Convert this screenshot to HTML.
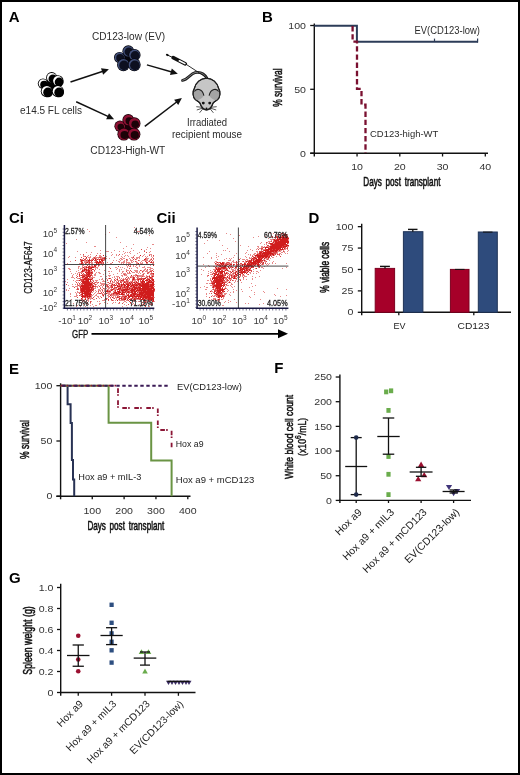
<!DOCTYPE html><html><head><meta charset="utf-8"><style>html,body{margin:0;padding:0;background:#fff}svg{display:block;will-change:transform}text{font-family:"Liberation Sans",sans-serif}</style></head><body>
<svg width="520" height="775" viewBox="0 0 520 775">
<defs><filter id="soft" x="-5%" y="-5%" width="110%" height="110%"><feGaussianBlur stdDeviation="0.5"/></filter></defs>
<rect width="520" height="775" fill="#fff"/>
<text transform="translate(8.7,21.9)" font-size="15" fill="#000" font-weight="bold">A</text>
<text transform="translate(92,39.5)" font-size="10" fill="#2b2b2b" textLength="73" lengthAdjust="spacingAndGlyphs">CD123-low (EV)</text>
<text transform="translate(20,114.3)" font-size="10" fill="#2b2b2b" textLength="62" lengthAdjust="spacingAndGlyphs">e14.5 FL cells</text>
<text transform="translate(90.3,153.5)" font-size="10" fill="#2b2b2b" textLength="75" lengthAdjust="spacingAndGlyphs">CD123-High-WT</text>
<text transform="translate(187,126.3)" font-size="10" fill="#2b2b2b" textLength="40" lengthAdjust="spacingAndGlyphs">Irradiated</text>
<text transform="translate(172,137.6)" font-size="10" fill="#2b2b2b" textLength="70" lengthAdjust="spacingAndGlyphs">recipient mouse</text>
<circle cx="51.46" cy="84.90" r="6" fill="#000"/>
<circle cx="43" cy="83.6" r="5.2" fill="#000"/>
<circle cx="43" cy="83.6" r="4.35" fill="#fff"/>
<circle cx="44.25" cy="84.85" r="4.05" fill="#000"/>
<circle cx="51.7" cy="77.7" r="5.6" fill="#000"/>
<circle cx="51.7" cy="77.7" r="4.75" fill="#fff"/>
<circle cx="52.95" cy="78.95" r="4.45" fill="#000"/>
<circle cx="57.9" cy="80.8" r="5.6" fill="#000"/>
<circle cx="57.9" cy="80.8" r="4.75" fill="#fff"/>
<circle cx="59.15" cy="82.05" r="4.45" fill="#000"/>
<circle cx="46.8" cy="91.2" r="6" fill="#000"/>
<circle cx="46.8" cy="91.2" r="5.15" fill="#fff"/>
<circle cx="48.05" cy="92.45" r="4.85" fill="#000"/>
<circle cx="57.9" cy="91.2" r="6" fill="#000"/>
<circle cx="57.9" cy="91.2" r="5.15" fill="#fff"/>
<circle cx="59.15" cy="92.45" r="4.85" fill="#000"/>
<circle cx="128.02" cy="58.66" r="6" fill="#05050c"/>
<circle cx="119.6" cy="57.5" r="5.6" fill="#05050c"/>
<circle cx="119.6" cy="57.5" r="4.90" fill="#42507a"/>
<circle cx="120.20" cy="58.10" r="4.00" fill="#0d1020"/>
<circle cx="128.3" cy="51.2" r="5.9" fill="#05050c"/>
<circle cx="128.3" cy="51.2" r="5.20" fill="#42507a"/>
<circle cx="128.90" cy="51.80" r="4.30" fill="#0d1020"/>
<circle cx="134.5" cy="55" r="6.1" fill="#05050c"/>
<circle cx="134.5" cy="55" r="5.40" fill="#42507a"/>
<circle cx="135.10" cy="55.60" r="4.50" fill="#0d1020"/>
<circle cx="123.4" cy="64.8" r="6.4" fill="#05050c"/>
<circle cx="123.4" cy="64.8" r="5.70" fill="#42507a"/>
<circle cx="124.00" cy="65.40" r="4.80" fill="#0d1020"/>
<circle cx="134.3" cy="64.8" r="6.4" fill="#05050c"/>
<circle cx="134.3" cy="64.8" r="5.70" fill="#42507a"/>
<circle cx="134.90" cy="65.40" r="4.80" fill="#0d1020"/>
<circle cx="128.10" cy="127.60" r="6" fill="#1a0008"/>
<circle cx="120" cy="126.2" r="5.6" fill="#1a0008"/>
<circle cx="120" cy="126.2" r="4.90" fill="#8e1134"/>
<circle cx="120.80" cy="127.00" r="3.30" fill="#1c0308"/>
<circle cx="128.3" cy="120" r="5.9" fill="#1a0008"/>
<circle cx="128.3" cy="120" r="5.20" fill="#8e1134"/>
<circle cx="129.10" cy="120.80" r="3.60" fill="#1c0308"/>
<circle cx="134.4" cy="123.4" r="6.1" fill="#1a0008"/>
<circle cx="134.4" cy="123.4" r="5.40" fill="#8e1134"/>
<circle cx="135.20" cy="124.20" r="3.80" fill="#1c0308"/>
<circle cx="123.8" cy="134.2" r="6.4" fill="#1a0008"/>
<circle cx="123.8" cy="134.2" r="5.70" fill="#8e1134"/>
<circle cx="124.60" cy="135.00" r="4.10" fill="#1c0308"/>
<circle cx="134" cy="134.2" r="6.4" fill="#1a0008"/>
<circle cx="134" cy="134.2" r="5.70" fill="#8e1134"/>
<circle cx="134.80" cy="135.00" r="4.10" fill="#1c0308"/>
<line x1="70.5" y1="82" x2="103.01" y2="71.25" stroke="#111" stroke-width="1.5"/>
<path d="M108.90 69.30L103.13 74.79L101.00 68.33Z" fill="#111"/>
<line x1="76.2" y1="101.7" x2="108.48" y2="116.69" stroke="#111" stroke-width="1.5"/>
<path d="M114.10 119.30L106.14 119.35L109.00 113.18Z" fill="#111"/>
<line x1="146.9" y1="64.9" x2="171.84" y2="72.0" stroke="#111" stroke-width="1.5"/>
<path d="M177.80 73.70L169.94 75.00L171.81 68.46Z" fill="#111"/>
<line x1="144.8" y1="126.3" x2="176.97" y2="101.76" stroke="#111" stroke-width="1.5"/>
<path d="M181.90 98.00L178.24 105.07L174.11 99.66Z" fill="#111"/>
<path d="M207 78.5 C204.5 73.5 200 71.8 195 72.6 C190.5 73.5 188 79.5 182.6 80.4" stroke="#1a1a1a" stroke-width="2.9" fill="none" stroke-linecap="round"/>
<path d="M207 78.5 C204.5 73.5 200 71.8 195 72.6 C190.5 73.5 188 79.5 182.6 80.4" stroke="#9a9a9a" stroke-width="0.8" fill="none" stroke-linecap="round"/>
<line x1="185.5" y1="63.9" x2="206.5" y2="77.6" stroke="#1a1a1a" stroke-width="0.9"/>
<line x1="167.2" y1="54.9" x2="173.5" y2="57.9" stroke="#1a1a1a" stroke-width="1.0"/>
<ellipse cx="167.3" cy="54.9" rx="1.5" ry="1.1" transform="rotate(28 167.3 54.9)" fill="#111"/>
<path d="M173.2 57.7 L185.3 63.8" stroke="#111" stroke-width="3.6" stroke-linecap="round"/>
<path d="M179.3 60.8 L184.9 63.6" stroke="#fff" stroke-width="1.6" stroke-linecap="round"/>
<path d="M206.5 78.2 C212.5 78.2 217.3 82.5 218.7 88.5 C220.6 91.5 220.4 97 217.6 99.6 C215.6 101.3 213.6 101.8 213 103.2 C212 106.3 209.5 109.6 206.5 109.9 C203.5 109.6 201 106.3 200 103.2 C199.4 101.8 197.4 101.3 195.4 99.6 C192.6 97 192.4 91.5 194.3 88.5 C195.7 82.5 200.5 78.2 206.5 78.2 Z" fill="#c6c6c6" stroke="#1e1e1e" stroke-width="1.15"/>
<path d="M194.3 91.6 C196 88.3 202.2 88 203.9 95.6 C202.2 98.4 199 100.3 196 100.4 C193.4 98.4 193 94.8 194.3 91.6 Z" fill="#a3a3a3"/>
<path d="M194.3 91.6 C196 88.3 202.2 88 203.9 95.6" stroke="#1e1e1e" stroke-width="1.1" fill="none"/>
<path d="M218.7 91.6 C217 88.3 210.8 88 209.1 95.6 C210.8 98.4 214 100.3 217 100.4 C219.6 98.4 220 94.8 218.7 91.6 Z" fill="#a3a3a3"/>
<path d="M218.7 91.6 C217 88.3 210.8 88 209.1 95.6" stroke="#1e1e1e" stroke-width="1.1" fill="none"/>
<path d="M206.5 78.2 C212.5 78.2 217.3 82.5 218.7 88.5 C220.6 91.5 220.4 97 217.6 99.6 C215.6 101.3 213.6 101.8 213 103.2 C212 106.3 209.5 109.6 206.5 109.9 C203.5 109.6 201 106.3 200 103.2 C199.4 101.8 197.4 101.3 195.4 99.6 C192.6 97 192.4 91.5 194.3 88.5 C195.7 82.5 200.5 78.2 206.5 78.2 Z" fill="none" stroke="#1e1e1e" stroke-width="1.15"/>
<circle cx="203.3" cy="103.1" r="1.45" fill="#111"/><circle cx="209.7" cy="103.1" r="1.45" fill="#111"/>
<circle cx="206.5" cy="108.5" r="1.0" fill="#111"/>
<line x1="202.5" y1="107.3" x2="196.3" y2="106.7" stroke="#1e1e1e" stroke-width="0.75"/>
<line x1="202.6" y1="108.1" x2="196.8" y2="110.0" stroke="#1e1e1e" stroke-width="0.75"/>
<line x1="203" y1="108.6" x2="199.6" y2="112.8" stroke="#1e1e1e" stroke-width="0.75"/>
<line x1="210.5" y1="107.3" x2="216.7" y2="106.7" stroke="#1e1e1e" stroke-width="0.75"/>
<line x1="210.4" y1="108.1" x2="216.2" y2="110.0" stroke="#1e1e1e" stroke-width="0.75"/>
<line x1="210" y1="108.6" x2="213.4" y2="112.8" stroke="#1e1e1e" stroke-width="0.75"/>
<text transform="translate(261.9,21.8)" font-size="15" fill="#000" font-weight="bold">B</text>
<line x1="314.3" y1="23.5" x2="314.3" y2="156.5" stroke="#111" stroke-width="1.4"/>
<line x1="310.2" y1="153.2" x2="488" y2="153.2" stroke="#111" stroke-width="1.4"/>
<line x1="310.2" y1="25.5" x2="314.3" y2="25.5" stroke="#111" stroke-width="1.3"/>
<text transform="translate(306,28.8) scale(1.18,1.0)" font-size="9" fill="#333" text-anchor="end">100</text>
<line x1="310.2" y1="89.3" x2="314.3" y2="89.3" stroke="#111" stroke-width="1.3"/>
<text transform="translate(306,92.6) scale(1.18,1.0)" font-size="9" fill="#333" text-anchor="end">50</text>
<line x1="310.2" y1="153.2" x2="314.3" y2="153.2" stroke="#111" stroke-width="1.3"/>
<text transform="translate(306,156.5) scale(1.18,1.0)" font-size="9" fill="#333" text-anchor="end">0</text>
<line x1="357.05" y1="153.2" x2="357.05" y2="156.5" stroke="#111" stroke-width="1.3"/>
<text transform="translate(357.05,169.8) scale(1.18,1.0)" font-size="9" fill="#333" text-anchor="middle">10</text>
<line x1="399.8" y1="153.2" x2="399.8" y2="156.5" stroke="#111" stroke-width="1.3"/>
<text transform="translate(399.8,169.8) scale(1.18,1.0)" font-size="9" fill="#333" text-anchor="middle">20</text>
<line x1="442.55" y1="153.2" x2="442.55" y2="156.5" stroke="#111" stroke-width="1.3"/>
<text transform="translate(442.55,169.8) scale(1.18,1.0)" font-size="9" fill="#333" text-anchor="middle">30</text>
<line x1="485.3" y1="153.2" x2="485.3" y2="156.5" stroke="#111" stroke-width="1.3"/>
<text transform="translate(485.3,169.8) scale(1.18,1.0)" font-size="9" fill="#333" text-anchor="middle">40</text>
<text transform="translate(282.0,87.6) rotate(-90) scale(0.6636,1.0)" font-size="12.7" fill="#111" text-anchor="middle" stroke="#111" stroke-width="0.55">% survival</text>
<text transform="translate(363.3,186.4) scale(0.6626,1.0)" font-size="12.3" fill="#111" stroke="#111" stroke-width="0.55" word-spacing="2.2">Days post transplant</text>
<path d="M314.3 25.7 H356.9 V41.7 H478" stroke="#2c3c58" stroke-width="2.0" fill="none"/>
<line x1="434.5" y1="38.6" x2="434.5" y2="41.8" stroke="#2c3c58" stroke-width="1.2"/>
<line x1="477.6" y1="38.6" x2="477.6" y2="42.6" stroke="#2c3c58" stroke-width="1.2"/>
<path d="M352.6 26 V41.6 H357 V88.9 H361.5 V104.7 H365.5 V153" stroke="#7a1030" stroke-width="2.3" fill="none" stroke-dasharray="5.4 2.8"/>
<text transform="translate(414.5,33.9)" font-size="10" fill="#2a2a2a" textLength="65.5" lengthAdjust="spacingAndGlyphs">EV(CD123-low)</text>
<text transform="translate(370,136.6)" font-size="9.2" fill="#2a2a2a" textLength="68.3" lengthAdjust="spacingAndGlyphs">CD123-high-WT</text>
<text transform="translate(8.9,222.7)" font-size="15" fill="#000" font-weight="bold">Ci</text>
<text transform="translate(156.5,222.7)" font-size="15" fill="#000" font-weight="bold">Cii</text>
<path d="M90 298h1v1h-1zM91 292h1v1h-1zM84 299h1v1h-1zM83 292h1v1h-1zM89 298h1v1h-1zM88 299h1v1h-1zM87 307h1v1h-1zM80 285h1v1h-1zM94 296h1v1h-1zM77 295h1v1h-1zM91 298h1v1h-1zM88 300h1v1h-1zM83 301h1v1h-1zM88 297h1v1h-1zM83 284h1v1h-1zM87 298h1v1h-1zM80 294h1v1h-1zM78 292h1v1h-1zM93 287h1v1h-1zM81 295h1v1h-1zM87 300h1v1h-1zM85 301h1v1h-1zM86 301h1v1h-1zM83 297h1v1h-1zM91 286h1v1h-1zM84 300h1v1h-1zM87 302h1v1h-1zM93 290h1v1h-1zM79 285h1v1h-1zM80 300h1v1h-1zM80 278h1v1h-1zM80 275h1v1h-1zM93 294h1v1h-1zM91 297h1v1h-1zM79 292h1v1h-1zM92 295h1v1h-1zM76 289h1v1h-1zM88 301h1v1h-1zM86 297h1v1h-1zM92 292h1v1h-1zM82 278h1v1h-1zM81 293h1v1h-1zM90 299h1v1h-1zM90 297h1v1h-1zM79 286h1v1h-1zM83 300h1v1h-1zM80 291h1v1h-1zM91 296h1v1h-1zM90 269h1v1h-1zM90 288h1v1h-1zM93 277h1v1h-1zM81 287h1v1h-1zM95 280h1v1h-1zM96 282h1v1h-1zM82 268h1v1h-1zM94 282h1v1h-1zM78 266h1v1h-1zM89 269h1v1h-1zM90 282h1v1h-1zM93 280h1v1h-1zM82 269h1v1h-1zM84 277h1v1h-1zM92 280h1v1h-1zM83 278h1v1h-1zM78 268h1v1h-1zM85 266h1v1h-1zM91 271h1v1h-1zM82 266h1v1h-1zM89 281h1v1h-1zM87 269h1v1h-1zM97 267h1v1h-1zM92 275h1v1h-1zM91 278h1v1h-1zM85 274h1v1h-1zM83 274h1v1h-1zM90 278h1v1h-1zM84 266h1v1h-1zM81 268h1v1h-1zM82 267h1v1h-1zM92 283h1v1h-1zM90 270h1v1h-1zM92 277h1v1h-1zM80 272h1v1h-1zM96 267h1v1h-1zM81 272h1v1h-1zM95 285h1v1h-1zM90 271h1v1h-1zM90 266h1v1h-1zM91 269h1v1h-1zM80 284h1v1h-1zM98 272h1v1h-1zM81 284h1v1h-1zM92 279h1v1h-1zM92 271h1v1h-1zM78 270h1v1h-1zM85 267h1v1h-1zM87 271h1v1h-1zM91 277h1v1h-1zM85 276h1v1h-1zM78 288h1v1h-1zM89 278h1v1h-1zM82 272h1v1h-1zM92 276h1v1h-1zM84 280h1v1h-1zM97 286h1v1h-1zM90 277h1v1h-1zM91 266h1v1h-1zM86 268h1v1h-1zM95 268h1v1h-1zM95 269h1v1h-1zM85 268h1v1h-1zM85 271h1v1h-1zM81 277h1v1h-1zM94 271h1v1h-1zM96 272h1v1h-1zM96 259h1v1h-1zM83 255h1v1h-1zM82 264h1v1h-1zM89 265h1v1h-1zM86 261h1v1h-1zM87 259h1v1h-1zM94 264h1v1h-1zM85 260h1v1h-1zM95 264h1v1h-1zM102 265h1v1h-1zM88 263h1v1h-1zM97 253h1v1h-1zM84 262h1v1h-1zM90 254h1v1h-1zM91 252h1v1h-1zM80 254h1v1h-1zM95 261h1v1h-1zM92 263h1v1h-1zM80 261h1v1h-1zM91 262h1v1h-1zM98 259h1v1h-1zM82 265h1v1h-1zM96 257h1v1h-1zM94 262h1v1h-1zM80 263h1v1h-1zM87 261h1v1h-1zM81 259h1v1h-1zM98 258h1v1h-1zM83 263h1v1h-1zM85 258h1v1h-1zM101 261h1v1h-1zM97 268h1v1h-1zM100 258h1v1h-1zM89 257h1v1h-1zM80 260h1v1h-1zM97 257h1v1h-1zM92 258h1v1h-1zM84 261h1v1h-1zM92 259h1v1h-1zM85 262h1v1h-1zM84 256h1v1h-1zM91 259h1v1h-1zM84 260h1v1h-1zM87 260h1v1h-1zM92 262h1v1h-1zM99 263h1v1h-1zM90 257h1v1h-1zM82 259h1v1h-1zM101 258h1v1h-1zM85 261h1v1h-1zM83 265h1v1h-1zM102 257h1v1h-1zM102 262h1v1h-1zM93 258h1v1h-1zM82 261h1v1h-1zM95 257h1v1h-1zM96 258h1v1h-1zM88 262h1v1h-1zM83 256h1v1h-1zM99 256h1v1h-1zM99 255h1v1h-1zM88 257h1v1h-1zM101 257h1v1h-1zM100 253h1v1h-1zM80 264h1v1h-1zM100 255h1v1h-1zM100 256h1v1h-1zM89 258h1v1h-1zM93 257h1v1h-1zM102 263h1v1h-1zM101 256h1v1h-1zM98 257h1v1h-1zM105 259h1v1h-1zM94 267h1v1h-1zM97 263h1v1h-1zM106 256h1v1h-1zM99 265h1v1h-1zM96 265h1v1h-1zM106 258h1v1h-1zM103 257h1v1h-1zM95 267h1v1h-1zM98 266h1v1h-1zM103 259h1v1h-1zM104 260h1v1h-1zM100 263h1v1h-1zM76 294h1v1h-1zM75 292h1v1h-1zM85 264h1v1h-1zM79 272h1v1h-1zM81 300h1v1h-1zM80 306h1v1h-1zM96 294h1v1h-1zM95 305h1v1h-1zM72 275h1v1h-1zM93 306h1v1h-1zM90 274h1v1h-1zM67 282h1v1h-1zM77 278h1v1h-1zM73 274h1v1h-1zM76 275h1v1h-1zM83 269h1v1h-1zM67 279h1v1h-1zM77 273h1v1h-1zM92 304h1v1h-1zM73 305h1v1h-1zM92 265h1v1h-1zM102 279h1v1h-1zM72 277h1v1h-1zM66 290h1v1h-1zM80 277h1v1h-1zM80 282h1v1h-1zM90 303h1v1h-1zM87 299h1v1h-1zM98 297h1v1h-1zM79 263h1v1h-1zM71 277h1v1h-1zM86 264h1v1h-1zM99 290h1v1h-1zM82 301h1v1h-1zM72 286h1v1h-1zM100 283h1v1h-1zM95 273h1v1h-1zM95 287h1v1h-1zM93 291h1v1h-1zM96 280h1v1h-1zM77 251h1v1h-1zM71 299h1v1h-1zM70 261h1v1h-1zM72 284h1v1h-1zM80 269h1v1h-1zM92 264h1v1h-1zM78 267h1v1h-1zM91 281h1v1h-1zM100 273h1v1h-1zM94 299h1v1h-1zM76 293h1v1h-1zM75 286h1v1h-1zM77 280h1v1h-1zM68 268h1v1h-1zM76 295h1v1h-1zM79 266h1v1h-1zM70 271h1v1h-1zM78 282h1v1h-1zM85 270h1v1h-1zM80 295h1v1h-1zM73 286h1v1h-1zM76 271h1v1h-1zM85 306h1v1h-1zM76 286h1v1h-1zM74 296h1v1h-1zM86 252h1v1h-1zM79 273h1v1h-1zM94 288h1v1h-1zM70 293h1v1h-1zM77 292h1v1h-1zM100 290h1v1h-1zM96 284h1v1h-1zM77 283h1v1h-1zM81 299h1v1h-1zM70 296h1v1h-1zM85 302h1v1h-1zM78 278h1v1h-1zM75 284h1v1h-1zM80 268h1v1h-1zM91 282h1v1h-1zM73 280h1v1h-1zM88 264h1v1h-1zM80 280h1v1h-1zM74 278h1v1h-1zM75 296h1v1h-1zM68 285h1v1h-1zM82 298h1v1h-1zM94 277h1v1h-1zM99 301h1v1h-1zM91 295h1v1h-1zM95 295h1v1h-1zM83 304h1v1h-1zM88 304h1v1h-1zM81 303h1v1h-1zM81 302h1v1h-1zM65 281h1v1h-1zM69 269h1v1h-1zM68 290h1v1h-1zM91 301h1v1h-1zM77 291h1v1h-1zM97 296h1v1h-1zM95 274h1v1h-1zM70 269h1v1h-1zM77 287h1v1h-1zM79 300h1v1h-1zM82 300h1v1h-1zM77 286h1v1h-1zM93 299h1v1h-1zM91 265h1v1h-1zM95 288h1v1h-1zM97 287h1v1h-1zM78 280h1v1h-1zM78 272h1v1h-1zM79 284h1v1h-1zM101 279h1v1h-1zM94 293h1v1h-1zM69 288h1v1h-1zM75 273h1v1h-1zM84 271h1v1h-1zM77 285h1v1h-1zM71 273h1v1h-1zM86 263h1v1h-1zM76 280h1v1h-1zM96 291h1v1h-1zM76 296h1v1h-1zM94 275h1v1h-1zM110 287h1v1h-1zM127 307h1v1h-1zM116 282h1v1h-1zM109 293h1v1h-1zM130 303h1v1h-1zM109 273h1v1h-1zM126 305h1v1h-1zM105 287h1v1h-1zM102 286h1v1h-1zM135 286h1v1h-1zM107 284h1v1h-1zM122 281h1v1h-1zM111 284h1v1h-1zM105 279h1v1h-1zM150 304h1v1h-1zM119 300h1v1h-1zM115 297h1v1h-1zM150 283h1v1h-1zM117 283h1v1h-1zM134 275h1v1h-1zM135 276h1v1h-1zM104 281h1v1h-1zM112 277h1v1h-1zM109 292h1v1h-1zM152 281h1v1h-1zM129 284h1v1h-1zM97 293h1v1h-1zM118 299h1v1h-1zM102 295h1v1h-1zM130 281h1v1h-1zM121 283h1v1h-1zM106 285h1v1h-1zM137 291h1v1h-1zM124 301h1v1h-1zM107 289h1v1h-1zM138 278h1v1h-1zM127 297h1v1h-1zM119 280h1v1h-1zM113 297h1v1h-1zM146 304h1v1h-1zM110 294h1v1h-1zM99 272h1v1h-1zM108 288h1v1h-1zM115 296h1v1h-1zM116 281h1v1h-1zM100 285h1v1h-1zM104 290h1v1h-1zM121 287h1v1h-1zM114 277h1v1h-1zM144 298h1v1h-1zM130 282h1v1h-1zM142 305h1v1h-1zM129 293h1v1h-1zM128 278h1v1h-1zM99 273h1v1h-1zM120 285h1v1h-1zM116 299h1v1h-1zM132 272h1v1h-1zM135 282h1v1h-1zM118 296h1v1h-1zM129 278h1v1h-1zM111 295h1v1h-1zM131 305h1v1h-1zM100 296h1v1h-1zM128 288h1v1h-1zM148 278h1v1h-1zM96 286h1v1h-1zM148 300h1v1h-1zM99 289h1v1h-1zM110 282h1v1h-1zM124 293h1v1h-1zM119 287h1v1h-1zM98 296h1v1h-1zM123 282h1v1h-1zM98 290h1v1h-1zM116 295h1v1h-1zM136 279h1v1h-1zM146 270h1v1h-1zM108 287h1v1h-1zM107 303h1v1h-1zM132 304h1v1h-1zM110 280h1v1h-1zM146 302h1v1h-1zM123 300h1v1h-1zM103 283h1v1h-1zM147 270h1v1h-1zM126 300h1v1h-1zM114 290h1v1h-1zM148 304h1v1h-1zM118 280h1v1h-1zM138 292h1v1h-1zM110 283h1v1h-1zM124 300h1v1h-1zM99 304h1v1h-1zM133 280h1v1h-1zM136 301h1v1h-1zM153 286h1v1h-1zM104 293h1v1h-1zM130 287h1v1h-1zM123 278h1v1h-1zM107 287h1v1h-1zM103 280h1v1h-1zM154 301h1v1h-1zM108 295h1v1h-1zM108 271h1v1h-1zM98 293h1v1h-1zM105 285h1v1h-1zM116 288h1v1h-1zM123 288h1v1h-1zM114 280h1v1h-1zM134 280h1v1h-1zM130 291h1v1h-1zM111 296h1v1h-1zM106 290h1v1h-1zM125 283h1v1h-1zM131 284h1v1h-1zM140 301h1v1h-1zM115 302h1v1h-1zM124 295h1v1h-1zM149 306h1v1h-1zM122 306h1v1h-1zM99 303h1v1h-1zM102 300h1v1h-1zM135 280h1v1h-1zM122 286h1v1h-1zM98 289h1v1h-1zM102 291h1v1h-1zM112 282h1v1h-1zM118 294h1v1h-1zM116 285h1v1h-1zM101 283h1v1h-1zM140 282h1v1h-1zM95 290h1v1h-1zM125 279h1v1h-1zM105 291h1v1h-1zM110 289h1v1h-1zM103 294h1v1h-1zM117 287h1v1h-1zM133 276h1v1h-1zM145 299h1v1h-1zM125 301h1v1h-1zM120 296h1v1h-1zM126 295h1v1h-1zM128 290h1v1h-1zM135 275h1v1h-1zM140 276h1v1h-1zM126 302h1v1h-1zM111 300h1v1h-1zM134 283h1v1h-1zM110 298h1v1h-1zM139 297h1v1h-1zM124 304h1v1h-1zM113 296h1v1h-1zM124 288h1v1h-1zM121 300h1v1h-1zM108 294h1v1h-1zM133 303h1v1h-1zM102 287h1v1h-1zM122 300h1v1h-1zM114 289h1v1h-1zM130 289h1v1h-1zM118 285h1v1h-1zM103 300h1v1h-1zM113 292h1v1h-1zM98 292h1v1h-1zM137 286h1v1h-1zM123 273h1v1h-1zM107 295h1v1h-1zM131 283h1v1h-1zM122 295h1v1h-1zM131 277h1v1h-1zM107 298h1v1h-1zM115 289h1v1h-1zM102 289h1v1h-1zM100 291h1v1h-1zM107 282h1v1h-1zM121 275h1v1h-1zM128 282h1v1h-1zM109 285h1v1h-1zM154 286h1v1h-1zM104 283h1v1h-1zM112 295h1v1h-1zM110 290h1v1h-1zM132 286h1v1h-1zM123 297h1v1h-1zM108 284h1v1h-1zM108 292h1v1h-1zM121 292h1v1h-1zM135 279h1v1h-1zM126 297h1v1h-1zM108 293h1v1h-1zM102 281h1v1h-1zM104 291h1v1h-1zM119 303h1v1h-1zM102 278h1v1h-1zM126 294h1v1h-1zM123 293h1v1h-1zM141 303h1v1h-1zM133 288h1v1h-1zM111 283h1v1h-1zM109 287h1v1h-1zM103 284h1v1h-1zM100 287h1v1h-1zM110 285h1v1h-1zM142 304h1v1h-1zM138 273h1v1h-1zM144 304h1v1h-1zM104 299h1v1h-1zM101 284h1v1h-1zM154 281h1v1h-1zM122 297h1v1h-1zM141 304h1v1h-1zM102 293h1v1h-1zM115 300h1v1h-1zM114 291h1v1h-1zM105 281h1v1h-1zM138 277h1v1h-1zM148 306h1v1h-1zM118 295h1v1h-1zM117 290h1v1h-1zM107 292h1v1h-1zM133 300h1v1h-1zM133 301h1v1h-1zM101 285h1v1h-1zM129 295h1v1h-1zM112 283h1v1h-1zM104 284h1v1h-1zM112 290h1v1h-1zM116 283h1v1h-1zM106 276h1v1h-1zM120 291h1v1h-1zM115 278h1v1h-1zM104 302h1v1h-1zM109 276h1v1h-1zM112 303h1v1h-1zM111 280h1v1h-1zM154 297h1v1h-1zM99 298h1v1h-1zM123 285h1v1h-1zM96 281h1v1h-1zM103 296h1v1h-1zM120 300h1v1h-1zM109 290h1v1h-1zM148 276h1v1h-1zM135 281h1v1h-1zM97 283h1v1h-1zM97 280h1v1h-1zM118 282h1v1h-1zM101 276h1v1h-1zM111 279h1v1h-1zM105 292h1v1h-1zM106 286h1v1h-1zM144 279h1v1h-1zM128 280h1v1h-1zM109 294h1v1h-1zM134 281h1v1h-1zM108 297h1v1h-1zM111 293h1v1h-1zM138 293h1v1h-1zM108 289h1v1h-1zM113 300h1v1h-1zM114 281h1v1h-1zM105 294h1v1h-1zM113 298h1v1h-1zM137 280h1v1h-1zM108 290h1v1h-1zM104 288h1v1h-1zM135 290h1v1h-1zM126 282h1v1h-1zM109 288h1v1h-1zM121 296h1v1h-1zM104 300h1v1h-1zM96 295h1v1h-1zM126 292h1v1h-1zM120 280h1v1h-1zM123 302h1v1h-1zM116 289h1v1h-1zM97 282h1v1h-1zM104 289h1v1h-1zM108 296h1v1h-1zM139 304h1v1h-1zM102 283h1v1h-1zM110 292h1v1h-1zM108 278h1v1h-1zM116 298h1v1h-1zM127 278h1v1h-1zM128 281h1v1h-1zM115 295h1v1h-1zM113 282h1v1h-1zM101 293h1v1h-1zM124 291h1v1h-1zM132 276h1v1h-1zM102 284h1v1h-1zM118 303h1v1h-1zM117 292h1v1h-1zM123 274h1v1h-1zM123 286h1v1h-1zM138 282h1v1h-1zM113 284h1v1h-1zM149 283h1v1h-1zM103 281h1v1h-1zM115 288h1v1h-1zM112 293h1v1h-1zM111 288h1v1h-1zM107 293h1v1h-1zM138 301h1v1h-1zM135 295h1v1h-1zM120 284h1v1h-1zM137 253h1v1h-1zM125 281h1v1h-1zM131 261h1v1h-1zM115 294h1v1h-1zM150 273h1v1h-1zM116 267h1v1h-1zM124 279h1v1h-1zM136 277h1v1h-1zM137 272h1v1h-1zM136 263h1v1h-1zM128 256h1v1h-1zM128 273h1v1h-1zM133 272h1v1h-1zM114 282h1v1h-1zM152 274h1v1h-1zM143 267h1v1h-1zM125 274h1v1h-1zM130 265h1v1h-1zM127 276h1v1h-1zM114 294h1v1h-1zM134 230h1v1h-1zM117 278h1v1h-1zM145 277h1v1h-1zM124 256h1v1h-1zM121 273h1v1h-1zM117 295h1v1h-1zM130 276h1v1h-1zM150 270h1v1h-1zM125 286h1v1h-1zM115 267h1v1h-1zM134 272h1v1h-1zM149 272h1v1h-1zM121 258h1v1h-1zM132 278h1v1h-1zM142 262h1v1h-1zM136 299h1v1h-1zM147 281h1v1h-1zM152 268h1v1h-1zM117 273h1v1h-1zM136 267h1v1h-1zM132 277h1v1h-1zM153 269h1v1h-1zM113 274h1v1h-1zM137 270h1v1h-1zM150 267h1v1h-1zM124 264h1v1h-1zM136 258h1v1h-1zM123 271h1v1h-1zM140 275h1v1h-1zM137 262h1v1h-1zM124 261h1v1h-1zM137 277h1v1h-1zM117 276h1v1h-1zM125 273h1v1h-1zM111 271h1v1h-1zM120 279h1v1h-1zM116 260h1v1h-1zM130 273h1v1h-1zM115 283h1v1h-1zM109 267h1v1h-1zM137 271h1v1h-1zM119 278h1v1h-1zM133 244h1v1h-1zM116 297h1v1h-1zM152 275h1v1h-1zM124 258h1v1h-1zM131 276h1v1h-1zM144 269h1v1h-1zM130 298h1v1h-1zM127 255h1v1h-1zM146 275h1v1h-1zM118 276h1v1h-1zM127 294h1v1h-1zM131 293h1v1h-1zM119 270h1v1h-1zM134 270h1v1h-1zM143 276h1v1h-1zM136 289h1v1h-1zM119 262h1v1h-1zM136 274h1v1h-1zM133 266h1v1h-1zM114 295h1v1h-1zM137 268h1v1h-1zM137 293h1v1h-1zM129 271h1v1h-1zM125 284h1v1h-1zM126 274h1v1h-1zM122 271h1v1h-1zM113 291h1v1h-1zM133 275h1v1h-1zM147 271h1v1h-1zM139 266h1v1h-1zM139 265h1v1h-1zM151 272h1v1h-1zM128 263h1v1h-1zM110 275h1v1h-1zM133 292h1v1h-1zM148 273h1v1h-1zM126 269h1v1h-1zM142 274h1v1h-1zM142 272h1v1h-1zM121 281h1v1h-1zM151 270h1v1h-1zM146 264h1v1h-1zM146 249h1v1h-1zM147 267h1v1h-1zM124 273h1v1h-1zM116 276h1v1h-1zM148 280h1v1h-1zM126 270h1v1h-1zM110 286h1v1h-1zM149 275h1v1h-1zM132 257h1v1h-1zM122 279h1v1h-1zM144 270h1v1h-1zM114 276h1v1h-1zM144 254h1v1h-1zM151 268h1v1h-1zM121 288h1v1h-1zM149 267h1v1h-1zM145 269h1v1h-1zM131 287h1v1h-1zM131 281h1v1h-1zM130 285h1v1h-1zM120 267h1v1h-1zM151 275h1v1h-1zM127 267h1v1h-1zM112 294h1v1h-1zM146 276h1v1h-1zM135 271h1v1h-1zM126 246h1v1h-1zM140 273h1v1h-1zM126 265h1v1h-1zM116 269h1v1h-1zM149 269h1v1h-1zM152 262h1v1h-1zM143 271h1v1h-1zM119 297h1v1h-1zM123 281h1v1h-1zM136 283h1v1h-1zM127 259h1v1h-1zM126 275h1v1h-1zM153 275h1v1h-1zM127 272h1v1h-1zM139 272h1v1h-1zM122 272h1v1h-1zM138 299h1v1h-1zM139 271h1v1h-1zM143 270h1v1h-1zM147 263h1v1h-1zM138 275h1v1h-1zM128 293h1v1h-1zM130 251h1v1h-1zM136 270h1v1h-1zM141 264h1v1h-1zM144 266h1v1h-1zM151 274h1v1h-1zM151 283h1v1h-1zM136 271h1v1h-1zM137 267h1v1h-1zM123 295h1v1h-1zM145 268h1v1h-1zM122 276h1v1h-1zM151 280h1v1h-1zM135 274h1v1h-1zM129 279h1v1h-1zM150 268h1v1h-1zM143 275h1v1h-1zM116 279h1v1h-1zM121 269h1v1h-1zM121 291h1v1h-1zM131 268h1v1h-1zM108 275h1v1h-1zM142 267h1v1h-1zM109 271h1v1h-1zM121 278h1v1h-1zM122 298h1v1h-1zM126 298h1v1h-1zM117 277h1v1h-1zM133 298h1v1h-1zM136 272h1v1h-1zM117 268h1v1h-1zM120 290h1v1h-1zM127 298h1v1h-1zM117 280h1v1h-1zM118 287h1v1h-1zM127 280h1v1h-1zM129 273h1v1h-1zM106 288h1v1h-1zM135 270h1v1h-1zM144 276h1v1h-1zM132 282h1v1h-1zM139 276h1v1h-1zM138 276h1v1h-1zM130 253h1v1h-1zM128 270h1v1h-1zM151 276h1v1h-1zM125 295h1v1h-1zM129 290h1v1h-1zM145 271h1v1h-1zM149 271h1v1h-1zM125 275h1v1h-1zM150 265h1v1h-1zM146 281h1v1h-1zM141 277h1v1h-1zM134 297h1v1h-1zM119 271h1v1h-1zM131 248h1v1h-1zM123 258h1v1h-1zM136 264h1v1h-1zM123 263h1v1h-1zM148 267h1v1h-1zM144 267h1v1h-1zM137 299h1v1h-1zM147 272h1v1h-1zM143 273h1v1h-1zM124 268h1v1h-1zM109 275h1v1h-1zM113 295h1v1h-1zM135 266h1v1h-1zM127 273h1v1h-1zM147 259h1v1h-1zM144 260h1v1h-1zM118 255h1v1h-1zM146 258h1v1h-1zM137 258h1v1h-1zM139 260h1v1h-1zM121 259h1v1h-1zM133 261h1v1h-1zM129 258h1v1h-1zM136 259h1v1h-1zM145 260h1v1h-1zM147 258h1v1h-1zM123 261h1v1h-1zM153 259h1v1h-1zM113 260h1v1h-1zM149 254h1v1h-1zM132 258h1v1h-1zM153 261h1v1h-1zM124 253h1v1h-1zM147 260h1v1h-1zM119 261h1v1h-1zM146 259h1v1h-1zM119 259h1v1h-1zM122 262h1v1h-1zM132 262h1v1h-1zM138 257h1v1h-1zM119 251h1v1h-1zM134 258h1v1h-1zM121 263h1v1h-1zM136 257h1v1h-1zM141 263h1v1h-1zM150 259h1v1h-1zM122 257h1v1h-1zM130 259h1v1h-1zM126 260h1v1h-1zM128 262h1v1h-1zM127 260h1v1h-1zM141 261h1v1h-1zM140 263h1v1h-1zM149 260h1v1h-1zM123 251h1v1h-1zM139 258h1v1h-1zM129 263h1v1h-1zM152 263h1v1h-1zM151 258h1v1h-1zM153 263h1v1h-1zM149 252h1v1h-1zM120 258h1v1h-1zM130 263h1v1h-1zM144 250h1v1h-1zM131 260h1v1h-1zM130 260h1v1h-1zM110 263h1v1h-1zM121 256h1v1h-1zM152 244h1v1h-1zM131 262h1v1h-1zM127 262h1v1h-1zM139 256h1v1h-1zM146 261h1v1h-1zM148 258h1v1h-1zM146 257h1v1h-1zM126 262h1v1h-1zM146 260h1v1h-1zM146 263h1v1h-1zM133 250h1v1h-1zM136 261h1v1h-1zM140 262h1v1h-1zM136 262h1v1h-1zM150 254h1v1h-1zM122 259h1v1h-1zM150 260h1v1h-1zM132 260h1v1h-1zM125 255h1v1h-1zM145 256h1v1h-1zM142 263h1v1h-1zM125 252h1v1h-1zM147 256h1v1h-1zM151 254h1v1h-1zM151 256h1v1h-1zM142 260h1v1h-1zM126 263h1v1h-1zM143 260h1v1h-1zM137 263h1v1h-1zM109 258h1v1h-1zM126 261h1v1h-1zM142 256h1v1h-1zM123 248h1v1h-1zM143 255h1v1h-1zM111 252h1v1h-1zM131 257h1v1h-1zM148 261h1v1h-1zM133 256h1v1h-1zM129 262h1v1h-1zM151 255h1v1h-1zM124 262h1v1h-1zM124 260h1v1h-1zM153 256h1v1h-1zM123 262h1v1h-1zM116 255h1v1h-1zM114 257h1v1h-1zM150 248h1v1h-1zM139 257h1v1h-1zM121 262h1v1h-1zM154 291h1v1h-1zM154 288h1v1h-1zM142 275h1v1h-1zM138 285h1v1h-1zM154 284h1v1h-1zM142 279h1v1h-1zM141 275h1v1h-1zM146 301h1v1h-1zM139 275h1v1h-1zM141 270h1v1h-1zM145 302h1v1h-1zM146 299h1v1h-1zM152 277h1v1h-1zM147 302h1v1h-1zM152 304h1v1h-1zM151 300h1v1h-1zM146 271h1v1h-1zM150 274h1v1h-1zM146 300h1v1h-1zM152 289h1v1h-1zM151 296h1v1h-1zM149 278h1v1h-1zM139 301h1v1h-1zM147 277h1v1h-1zM144 273h1v1h-1zM141 276h1v1h-1zM77 305h1v1h-1zM95 292h1v1h-1zM129 266h1v1h-1zM107 251h1v1h-1zM134 304h1v1h-1zM90 305h1v1h-1zM120 260h1v1h-1zM77 274h1v1h-1zM106 278h1v1h-1zM75 281h1v1h-1zM134 255h1v1h-1zM136 305h1v1h-1zM66 289h1v1h-1zM91 263h1v1h-1zM88 255h1v1h-1zM73 277h1v1h-1zM99 279h1v1h-1zM76 306h1v1h-1zM140 306h1v1h-1zM127 252h1v1h-1zM105 255h1v1h-1zM96 305h1v1h-1zM104 294h1v1h-1zM129 252h1v1h-1zM69 256h1v1h-1zM136 265h1v1h-1zM127 266h1v1h-1zM152 257h1v1h-1zM73 303h1v1h-1zM108 251h1v1h-1zM101 289h1v1h-1zM69 268h1v1h-1zM127 300h1v1h-1zM107 262h1v1h-1zM100 276h1v1h-1zM95 256h1v1h-1zM87 256h1v1h-1zM68 257h1v1h-1zM122 254h1v1h-1zM95 275h1v1h-1zM119 269h1v1h-1zM122 267h1v1h-1zM114 286h1v1h-1zM104 270h1v1h-1zM112 254h1v1h-1zM84 267h1v1h-1zM133 265h1v1h-1zM93 266h1v1h-1zM75 257h1v1h-1zM94 274h1v1h-1zM114 250h1v1h-1zM150 269h1v1h-1zM113 302h1v1h-1zM106 251h1v1h-1zM70 294h1v1h-1zM97 301h1v1h-1zM107 279h1v1h-1zM100 303h1v1h-1zM94 284h1v1h-1zM67 263h1v1h-1zM116 254h1v1h-1zM100 282h1v1h-1zM90 256h1v1h-1zM139 252h1v1h-1zM72 276h1v1h-1zM150 251h1v1h-1zM124 275h1v1h-1zM90 262h1v1h-1zM99 269h1v1h-1zM122 275h1v1h-1zM127 270h1v1h-1zM98 285h1v1h-1zM100 250h1v1h-1zM137 257h1v1h-1zM111 255h1v1h-1zM112 285h1v1h-1zM118 261h1v1h-1zM105 273h1v1h-1zM111 263h1v1h-1zM103 274h1v1h-1zM134 227h1v1h-1zM86 242h1v1h-1zM116 237h1v1h-1zM149 235h1v1h-1zM138 231h1v1h-1zM94 246h1v1h-1zM109 232h1v1h-1zM76 239h1v1h-1zM139 231h1v1h-1zM105 234h1v1h-1zM153 244h1v1h-1zM147 247h1v1h-1zM89 231h1v1h-1zM137 231h1v1h-1zM120 242h1v1h-1zM95 246h1v1h-1zM87 229h1v1h-1zM66 243h1v1h-1z" fill="#d01c1c" fill-opacity="0.5" filter="url(#soft)"/>
<path d="M86 296h1v1h-1zM80 286h1v1h-1zM80 292h1v1h-1zM90 302h1v1h-1zM79 283h1v1h-1zM80 290h1v1h-1zM81 292h1v1h-1zM91 294h1v1h-1zM86 303h1v1h-1zM77 289h1v1h-1zM90 291h1v1h-1zM89 292h1v1h-1zM79 293h1v1h-1zM91 290h1v1h-1zM90 295h1v1h-1zM85 280h1v1h-1zM83 295h1v1h-1zM88 295h1v1h-1zM84 295h1v1h-1zM85 297h1v1h-1zM79 295h1v1h-1zM89 297h1v1h-1zM84 294h1v1h-1zM92 298h1v1h-1zM83 277h1v1h-1zM80 288h1v1h-1zM92 284h1v1h-1zM93 297h1v1h-1zM81 280h1v1h-1zM93 285h1v1h-1zM85 290h1v1h-1zM87 303h1v1h-1zM85 298h1v1h-1zM93 288h1v1h-1zM78 289h1v1h-1zM84 297h1v1h-1zM91 285h1v1h-1zM83 271h1v1h-1zM92 273h1v1h-1zM77 288h1v1h-1zM80 279h1v1h-1zM82 284h1v1h-1zM91 273h1v1h-1zM88 266h1v1h-1zM93 281h1v1h-1zM89 286h1v1h-1zM87 270h1v1h-1zM84 275h1v1h-1zM91 275h1v1h-1zM86 274h1v1h-1zM92 285h1v1h-1zM92 272h1v1h-1zM86 266h1v1h-1zM82 280h1v1h-1zM90 273h1v1h-1zM87 278h1v1h-1zM77 276h1v1h-1zM93 269h1v1h-1zM85 275h1v1h-1zM83 273h1v1h-1zM88 268h1v1h-1zM90 267h1v1h-1zM82 275h1v1h-1zM90 272h1v1h-1zM84 274h1v1h-1zM87 267h1v1h-1zM87 275h1v1h-1zM86 272h1v1h-1zM86 271h1v1h-1zM89 267h1v1h-1zM81 273h1v1h-1zM92 266h1v1h-1zM80 289h1v1h-1zM92 289h1v1h-1zM82 283h1v1h-1zM94 270h1v1h-1zM82 276h1v1h-1zM94 283h1v1h-1zM87 273h1v1h-1zM89 277h1v1h-1zM83 270h1v1h-1zM91 274h1v1h-1zM94 286h1v1h-1zM83 275h1v1h-1zM81 271h1v1h-1zM86 276h1v1h-1zM95 258h1v1h-1zM94 257h1v1h-1zM85 259h1v1h-1zM91 260h1v1h-1zM100 257h1v1h-1zM99 257h1v1h-1zM102 259h1v1h-1zM85 263h1v1h-1zM81 257h1v1h-1zM95 260h1v1h-1zM84 259h1v1h-1zM89 261h1v1h-1zM85 256h1v1h-1zM102 258h1v1h-1zM91 261h1v1h-1zM99 264h1v1h-1zM104 257h1v1h-1zM86 262h1v1h-1zM101 263h1v1h-1zM86 258h1v1h-1zM98 265h1v1h-1zM89 263h1v1h-1zM94 258h1v1h-1zM103 262h1v1h-1zM82 263h1v1h-1zM94 260h1v1h-1zM103 263h1v1h-1zM81 262h1v1h-1zM86 260h1v1h-1zM95 262h1v1h-1zM96 261h1v1h-1zM90 260h1v1h-1zM83 258h1v1h-1zM99 260h1v1h-1zM96 260h1v1h-1zM103 258h1v1h-1zM96 255h1v1h-1zM83 254h1v1h-1zM88 261h1v1h-1zM98 264h1v1h-1zM103 260h1v1h-1zM104 259h1v1h-1zM105 258h1v1h-1zM101 262h1v1h-1zM94 266h1v1h-1zM105 257h1v1h-1zM95 265h1v1h-1zM100 259h1v1h-1zM96 264h1v1h-1zM74 287h1v1h-1zM77 284h1v1h-1zM79 275h1v1h-1zM78 285h1v1h-1zM89 275h1v1h-1zM82 299h1v1h-1zM81 281h1v1h-1zM79 276h1v1h-1zM75 260h1v1h-1zM95 284h1v1h-1zM81 283h1v1h-1zM79 278h1v1h-1zM90 301h1v1h-1zM82 279h1v1h-1zM93 283h1v1h-1zM95 282h1v1h-1zM90 276h1v1h-1zM81 279h1v1h-1zM92 288h1v1h-1zM77 297h1v1h-1zM87 265h1v1h-1zM106 284h1v1h-1zM76 282h1v1h-1zM82 274h1v1h-1zM76 277h1v1h-1zM96 298h1v1h-1zM110 291h1v1h-1zM132 298h1v1h-1zM106 298h1v1h-1zM117 294h1v1h-1zM125 290h1v1h-1zM151 304h1v1h-1zM119 293h1v1h-1zM129 287h1v1h-1zM123 279h1v1h-1zM98 291h1v1h-1zM102 290h1v1h-1zM135 284h1v1h-1zM140 295h1v1h-1zM127 282h1v1h-1zM153 281h1v1h-1zM122 303h1v1h-1zM129 291h1v1h-1zM120 298h1v1h-1zM122 284h1v1h-1zM125 297h1v1h-1zM120 286h1v1h-1zM138 288h1v1h-1zM130 277h1v1h-1zM140 286h1v1h-1zM112 281h1v1h-1zM105 286h1v1h-1zM125 288h1v1h-1zM153 297h1v1h-1zM132 280h1v1h-1zM117 296h1v1h-1zM101 297h1v1h-1zM137 283h1v1h-1zM123 287h1v1h-1zM139 279h1v1h-1zM133 291h1v1h-1zM119 285h1v1h-1zM115 291h1v1h-1zM119 302h1v1h-1zM138 295h1v1h-1zM122 289h1v1h-1zM146 282h1v1h-1zM142 291h1v1h-1zM136 295h1v1h-1zM151 278h1v1h-1zM128 283h1v1h-1zM125 292h1v1h-1zM125 282h1v1h-1zM122 288h1v1h-1zM114 288h1v1h-1zM100 288h1v1h-1zM144 301h1v1h-1zM111 286h1v1h-1zM137 278h1v1h-1zM99 286h1v1h-1zM115 293h1v1h-1zM149 301h1v1h-1zM131 298h1v1h-1zM108 286h1v1h-1zM126 279h1v1h-1zM143 304h1v1h-1zM110 297h1v1h-1zM139 298h1v1h-1zM113 288h1v1h-1zM133 297h1v1h-1zM140 291h1v1h-1zM109 283h1v1h-1zM111 287h1v1h-1zM139 291h1v1h-1zM122 285h1v1h-1zM122 280h1v1h-1zM125 287h1v1h-1zM129 289h1v1h-1zM108 282h1v1h-1zM120 294h1v1h-1zM140 281h1v1h-1zM136 286h1v1h-1zM123 298h1v1h-1zM122 287h1v1h-1zM130 299h1v1h-1zM141 283h1v1h-1zM130 294h1v1h-1zM105 298h1v1h-1zM109 296h1v1h-1zM129 301h1v1h-1zM111 294h1v1h-1zM103 285h1v1h-1zM126 280h1v1h-1zM134 285h1v1h-1zM126 288h1v1h-1zM101 292h1v1h-1zM106 299h1v1h-1zM139 299h1v1h-1zM119 277h1v1h-1zM115 280h1v1h-1zM121 299h1v1h-1zM141 281h1v1h-1zM121 282h1v1h-1zM147 276h1v1h-1zM112 286h1v1h-1zM128 304h1v1h-1zM127 291h1v1h-1zM135 299h1v1h-1zM95 286h1v1h-1zM145 301h1v1h-1zM151 279h1v1h-1zM141 284h1v1h-1zM151 271h1v1h-1zM143 280h1v1h-1zM136 275h1v1h-1zM138 289h1v1h-1zM124 281h1v1h-1zM122 296h1v1h-1zM129 292h1v1h-1zM130 288h1v1h-1zM146 277h1v1h-1zM123 291h1v1h-1zM113 294h1v1h-1zM133 296h1v1h-1zM121 297h1v1h-1zM143 294h1v1h-1zM102 294h1v1h-1zM108 300h1v1h-1zM148 301h1v1h-1zM137 276h1v1h-1zM129 283h1v1h-1zM134 300h1v1h-1zM132 279h1v1h-1zM124 294h1v1h-1zM107 280h1v1h-1zM116 284h1v1h-1zM136 294h1v1h-1zM107 285h1v1h-1zM154 290h1v1h-1zM150 302h1v1h-1zM126 287h1v1h-1zM114 285h1v1h-1zM128 277h1v1h-1zM151 277h1v1h-1zM128 287h1v1h-1zM132 295h1v1h-1zM114 279h1v1h-1zM110 278h1v1h-1zM99 293h1v1h-1zM137 284h1v1h-1zM150 300h1v1h-1zM132 294h1v1h-1zM119 289h1v1h-1zM142 302h1v1h-1zM118 284h1v1h-1zM153 301h1v1h-1zM143 274h1v1h-1zM128 300h1v1h-1zM120 282h1v1h-1zM112 300h1v1h-1zM136 297h1v1h-1zM144 300h1v1h-1zM140 299h1v1h-1zM103 288h1v1h-1zM115 287h1v1h-1zM126 283h1v1h-1zM100 293h1v1h-1zM108 291h1v1h-1zM130 292h1v1h-1zM149 287h1v1h-1zM111 289h1v1h-1zM114 293h1v1h-1zM135 297h1v1h-1zM113 289h1v1h-1zM149 285h1v1h-1zM128 297h1v1h-1zM137 287h1v1h-1zM147 298h1v1h-1zM120 289h1v1h-1zM120 281h1v1h-1zM143 300h1v1h-1zM132 287h1v1h-1zM113 285h1v1h-1zM114 287h1v1h-1zM146 290h1v1h-1zM138 286h1v1h-1zM125 278h1v1h-1zM107 286h1v1h-1zM127 290h1v1h-1zM131 288h1v1h-1zM140 283h1v1h-1zM149 277h1v1h-1zM142 276h1v1h-1zM103 292h1v1h-1zM134 277h1v1h-1zM133 299h1v1h-1zM126 271h1v1h-1zM142 297h1v1h-1zM116 294h1v1h-1zM142 296h1v1h-1zM123 296h1v1h-1zM136 293h1v1h-1zM127 283h1v1h-1zM118 281h1v1h-1zM144 293h1v1h-1zM134 279h1v1h-1zM139 286h1v1h-1zM137 282h1v1h-1zM152 300h1v1h-1zM138 280h1v1h-1zM127 279h1v1h-1zM126 281h1v1h-1zM117 282h1v1h-1zM98 282h1v1h-1zM142 271h1v1h-1zM121 289h1v1h-1zM119 284h1v1h-1zM151 259h1v1h-1zM148 264h1v1h-1zM124 296h1v1h-1zM124 298h1v1h-1zM147 299h1v1h-1zM119 283h1v1h-1zM145 261h1v1h-1zM118 266h1v1h-1zM133 259h1v1h-1zM147 278h1v1h-1zM153 276h1v1h-1zM137 279h1v1h-1zM141 289h1v1h-1zM114 298h1v1h-1zM152 270h1v1h-1zM144 283h1v1h-1zM132 281h1v1h-1zM153 271h1v1h-1zM130 266h1v1h-1zM141 278h1v1h-1zM147 262h1v1h-1zM123 299h1v1h-1zM153 258h1v1h-1zM118 297h1v1h-1zM124 274h1v1h-1zM128 265h1v1h-1zM147 269h1v1h-1zM151 273h1v1h-1zM133 284h1v1h-1zM131 271h1v1h-1zM152 273h1v1h-1zM140 280h1v1h-1zM147 273h1v1h-1zM129 272h1v1h-1zM150 278h1v1h-1zM138 281h1v1h-1zM143 278h1v1h-1zM145 258h1v1h-1zM119 299h1v1h-1zM143 282h1v1h-1zM135 259h1v1h-1zM152 296h1v1h-1zM133 282h1v1h-1zM122 299h1v1h-1zM140 278h1v1h-1zM142 278h1v1h-1zM126 259h1v1h-1zM134 278h1v1h-1zM146 279h1v1h-1zM127 281h1v1h-1zM139 278h1v1h-1zM148 272h1v1h-1zM126 291h1v1h-1zM110 268h1v1h-1zM140 270h1v1h-1zM153 274h1v1h-1zM136 281h1v1h-1zM136 298h1v1h-1zM143 299h1v1h-1zM137 275h1v1h-1zM153 262h1v1h-1zM152 260h1v1h-1zM150 271h1v1h-1zM135 261h1v1h-1zM149 255h1v1h-1zM130 270h1v1h-1zM141 249h1v1h-1zM144 251h1v1h-1zM149 284h1v1h-1zM126 277h1v1h-1zM150 281h1v1h-1zM149 261h1v1h-1zM138 291h1v1h-1zM138 260h1v1h-1zM151 261h1v1h-1zM153 255h1v1h-1zM146 252h1v1h-1zM150 262h1v1h-1zM145 259h1v1h-1zM133 257h1v1h-1zM119 254h1v1h-1zM112 262h1v1h-1zM146 295h1v1h-1zM150 287h1v1h-1zM145 306h1v1h-1zM152 278h1v1h-1zM140 279h1v1h-1zM149 300h1v1h-1zM135 298h1v1h-1zM147 279h1v1h-1zM151 303h1v1h-1zM66 284h1v1h-1zM129 268h1v1h-1z" fill="#d01c1c" fill-opacity="0.8" filter="url(#soft)"/>
<path d="M89 288h1v1h-1zM85 288h1v1h-1zM88 290h1v1h-1zM88 282h1v1h-1zM90 290h1v1h-1zM88 289h1v1h-1zM85 292h1v1h-1zM85 293h1v1h-1zM83 283h1v1h-1zM87 287h1v1h-1zM84 285h1v1h-1zM81 290h1v1h-1zM84 292h1v1h-1zM87 295h1v1h-1zM85 286h1v1h-1zM87 291h1v1h-1zM89 284h1v1h-1zM84 286h1v1h-1zM81 291h1v1h-1zM90 294h1v1h-1zM88 292h1v1h-1zM88 293h1v1h-1zM85 294h1v1h-1zM84 290h1v1h-1zM87 286h1v1h-1zM87 288h1v1h-1zM89 293h1v1h-1zM81 294h1v1h-1zM87 290h1v1h-1zM83 296h1v1h-1zM82 293h1v1h-1zM90 283h1v1h-1zM85 284h1v1h-1zM87 297h1v1h-1zM92 282h1v1h-1zM84 293h1v1h-1zM84 291h1v1h-1zM86 289h1v1h-1zM84 296h1v1h-1zM85 283h1v1h-1zM90 292h1v1h-1zM92 290h1v1h-1zM84 283h1v1h-1zM83 287h1v1h-1zM88 286h1v1h-1zM86 295h1v1h-1zM86 294h1v1h-1zM88 287h1v1h-1zM89 289h1v1h-1zM84 287h1v1h-1zM88 298h1v1h-1zM92 286h1v1h-1zM87 292h1v1h-1zM86 291h1v1h-1zM81 289h1v1h-1zM88 291h1v1h-1zM84 289h1v1h-1zM86 293h1v1h-1zM82 294h1v1h-1zM85 287h1v1h-1zM83 286h1v1h-1zM82 290h1v1h-1zM81 298h1v1h-1zM87 283h1v1h-1zM89 291h1v1h-1zM87 289h1v1h-1zM88 288h1v1h-1zM86 279h1v1h-1zM86 285h1v1h-1zM81 286h1v1h-1zM85 281h1v1h-1zM86 292h1v1h-1zM85 291h1v1h-1zM88 296h1v1h-1zM90 284h1v1h-1zM82 296h1v1h-1zM87 285h1v1h-1zM80 287h1v1h-1zM87 293h1v1h-1zM86 290h1v1h-1zM81 296h1v1h-1zM82 292h1v1h-1zM91 287h1v1h-1zM83 293h1v1h-1zM85 299h1v1h-1zM89 294h1v1h-1zM87 296h1v1h-1zM86 286h1v1h-1zM87 279h1v1h-1zM90 285h1v1h-1zM88 284h1v1h-1zM91 279h1v1h-1zM83 290h1v1h-1zM86 288h1v1h-1zM90 293h1v1h-1zM86 283h1v1h-1zM86 284h1v1h-1zM82 291h1v1h-1zM86 282h1v1h-1zM84 288h1v1h-1zM81 288h1v1h-1zM89 282h1v1h-1zM89 296h1v1h-1zM85 295h1v1h-1zM91 291h1v1h-1zM85 278h1v1h-1zM88 283h1v1h-1zM82 295h1v1h-1zM89 287h1v1h-1zM82 297h1v1h-1zM83 289h1v1h-1zM83 288h1v1h-1zM82 287h1v1h-1zM89 295h1v1h-1zM83 291h1v1h-1zM82 286h1v1h-1zM85 285h1v1h-1zM85 296h1v1h-1zM88 285h1v1h-1zM90 286h1v1h-1zM87 282h1v1h-1zM91 284h1v1h-1zM90 296h1v1h-1zM90 280h1v1h-1zM81 285h1v1h-1zM85 279h1v1h-1zM89 283h1v1h-1zM87 281h1v1h-1zM91 289h1v1h-1zM92 287h1v1h-1zM89 290h1v1h-1zM86 287h1v1h-1zM85 289h1v1h-1zM83 281h1v1h-1zM82 285h1v1h-1zM84 281h1v1h-1zM93 286h1v1h-1zM89 285h1v1h-1zM88 280h1v1h-1zM87 284h1v1h-1zM85 282h1v1h-1zM82 282h1v1h-1zM93 289h1v1h-1zM82 289h1v1h-1zM84 282h1v1h-1zM91 283h1v1h-1zM88 294h1v1h-1zM91 288h1v1h-1zM87 294h1v1h-1zM83 285h1v1h-1zM83 279h1v1h-1zM82 288h1v1h-1zM83 280h1v1h-1zM83 282h1v1h-1zM83 276h1v1h-1zM84 284h1v1h-1zM90 289h1v1h-1zM87 272h1v1h-1zM86 273h1v1h-1zM86 281h1v1h-1zM85 272h1v1h-1zM86 277h1v1h-1zM82 270h1v1h-1zM91 270h1v1h-1zM91 272h1v1h-1zM87 277h1v1h-1zM85 277h1v1h-1zM88 272h1v1h-1zM91 268h1v1h-1zM92 267h1v1h-1zM82 277h1v1h-1zM79 280h1v1h-1zM90 287h1v1h-1zM87 280h1v1h-1zM84 268h1v1h-1zM89 270h1v1h-1zM90 281h1v1h-1zM86 280h1v1h-1zM85 269h1v1h-1zM89 276h1v1h-1zM89 273h1v1h-1zM92 278h1v1h-1zM91 267h1v1h-1zM89 274h1v1h-1zM89 268h1v1h-1zM90 268h1v1h-1zM88 267h1v1h-1zM90 275h1v1h-1zM88 276h1v1h-1zM88 275h1v1h-1zM86 278h1v1h-1zM89 279h1v1h-1zM89 272h1v1h-1zM82 281h1v1h-1zM86 275h1v1h-1zM87 274h1v1h-1zM88 270h1v1h-1zM84 276h1v1h-1zM87 276h1v1h-1zM89 271h1v1h-1zM84 278h1v1h-1zM88 269h1v1h-1zM82 271h1v1h-1zM93 267h1v1h-1zM88 281h1v1h-1zM86 267h1v1h-1zM86 269h1v1h-1zM88 273h1v1h-1zM89 266h1v1h-1zM88 278h1v1h-1zM83 267h1v1h-1zM84 270h1v1h-1zM81 275h1v1h-1zM88 279h1v1h-1zM88 274h1v1h-1zM86 270h1v1h-1zM84 279h1v1h-1zM88 271h1v1h-1zM92 269h1v1h-1zM90 279h1v1h-1zM84 269h1v1h-1zM97 262h1v1h-1zM89 260h1v1h-1zM101 259h1v1h-1zM93 259h1v1h-1zM97 261h1v1h-1zM80 259h1v1h-1zM98 263h1v1h-1zM97 259h1v1h-1zM81 261h1v1h-1zM95 259h1v1h-1zM102 261h1v1h-1zM100 261h1v1h-1zM98 262h1v1h-1zM81 260h1v1h-1zM92 260h1v1h-1zM99 259h1v1h-1zM86 257h1v1h-1zM99 262h1v1h-1zM83 260h1v1h-1zM88 260h1v1h-1zM89 262h1v1h-1zM87 262h1v1h-1zM82 262h1v1h-1zM81 263h1v1h-1zM100 262h1v1h-1zM104 258h1v1h-1zM96 262h1v1h-1zM89 259h1v1h-1zM103 255h1v1h-1zM99 261h1v1h-1zM82 260h1v1h-1zM102 260h1v1h-1zM97 264h1v1h-1zM95 266h1v1h-1zM101 260h1v1h-1zM94 265h1v1h-1zM96 263h1v1h-1zM79 274h1v1h-1zM106 291h1v1h-1zM153 289h1v1h-1zM132 291h1v1h-1zM136 287h1v1h-1zM142 286h1v1h-1zM128 292h1v1h-1zM139 290h1v1h-1zM127 287h1v1h-1zM124 292h1v1h-1zM141 293h1v1h-1zM117 291h1v1h-1zM151 293h1v1h-1zM128 289h1v1h-1zM123 294h1v1h-1zM135 294h1v1h-1zM126 290h1v1h-1zM138 296h1v1h-1zM124 289h1v1h-1zM112 289h1v1h-1zM152 292h1v1h-1zM144 290h1v1h-1zM130 284h1v1h-1zM141 292h1v1h-1zM138 290h1v1h-1zM139 293h1v1h-1zM153 291h1v1h-1zM126 284h1v1h-1zM151 282h1v1h-1zM131 294h1v1h-1zM153 300h1v1h-1zM134 295h1v1h-1zM150 294h1v1h-1zM109 291h1v1h-1zM134 286h1v1h-1zM148 295h1v1h-1zM122 294h1v1h-1zM125 291h1v1h-1zM143 296h1v1h-1zM125 296h1v1h-1zM131 291h1v1h-1zM149 288h1v1h-1zM151 295h1v1h-1zM132 284h1v1h-1zM152 284h1v1h-1zM132 289h1v1h-1zM139 295h1v1h-1zM118 291h1v1h-1zM145 295h1v1h-1zM150 290h1v1h-1zM153 283h1v1h-1zM124 287h1v1h-1zM150 288h1v1h-1zM143 297h1v1h-1zM146 292h1v1h-1zM140 289h1v1h-1zM128 284h1v1h-1zM145 290h1v1h-1zM127 295h1v1h-1zM123 290h1v1h-1zM111 285h1v1h-1zM152 294h1v1h-1zM152 276h1v1h-1zM119 288h1v1h-1zM123 292h1v1h-1zM129 296h1v1h-1zM152 291h1v1h-1zM121 285h1v1h-1zM145 296h1v1h-1zM140 296h1v1h-1zM151 288h1v1h-1zM152 283h1v1h-1zM144 294h1v1h-1zM119 298h1v1h-1zM131 275h1v1h-1zM150 284h1v1h-1zM150 291h1v1h-1zM122 291h1v1h-1zM150 299h1v1h-1zM146 288h1v1h-1zM144 303h1v1h-1zM143 286h1v1h-1zM139 283h1v1h-1zM126 293h1v1h-1zM154 289h1v1h-1zM152 295h1v1h-1zM141 297h1v1h-1zM125 289h1v1h-1zM137 285h1v1h-1zM148 294h1v1h-1zM147 283h1v1h-1zM134 291h1v1h-1zM132 288h1v1h-1zM121 293h1v1h-1zM134 287h1v1h-1zM135 296h1v1h-1zM148 297h1v1h-1zM115 290h1v1h-1zM116 293h1v1h-1zM152 290h1v1h-1zM138 287h1v1h-1zM139 292h1v1h-1zM132 296h1v1h-1zM148 283h1v1h-1zM152 286h1v1h-1zM116 287h1v1h-1zM133 295h1v1h-1zM112 284h1v1h-1zM136 285h1v1h-1zM148 287h1v1h-1zM119 294h1v1h-1zM151 291h1v1h-1zM141 282h1v1h-1zM142 287h1v1h-1zM137 298h1v1h-1zM148 290h1v1h-1zM148 291h1v1h-1zM149 291h1v1h-1zM148 293h1v1h-1zM118 283h1v1h-1zM142 285h1v1h-1zM153 294h1v1h-1zM149 296h1v1h-1zM131 299h1v1h-1zM145 287h1v1h-1zM121 280h1v1h-1zM147 288h1v1h-1zM141 279h1v1h-1zM153 284h1v1h-1zM147 286h1v1h-1zM147 287h1v1h-1zM139 284h1v1h-1zM142 284h1v1h-1zM120 292h1v1h-1zM153 296h1v1h-1zM120 287h1v1h-1zM138 297h1v1h-1zM150 282h1v1h-1zM149 276h1v1h-1zM135 292h1v1h-1zM127 284h1v1h-1zM134 289h1v1h-1zM135 288h1v1h-1zM124 284h1v1h-1zM146 289h1v1h-1zM139 289h1v1h-1zM142 288h1v1h-1zM149 292h1v1h-1zM131 290h1v1h-1zM132 285h1v1h-1zM143 290h1v1h-1zM124 286h1v1h-1zM150 296h1v1h-1zM143 285h1v1h-1zM151 297h1v1h-1zM150 298h1v1h-1zM144 296h1v1h-1zM144 284h1v1h-1zM138 283h1v1h-1zM120 288h1v1h-1zM151 290h1v1h-1zM121 290h1v1h-1zM149 290h1v1h-1zM143 287h1v1h-1zM130 295h1v1h-1zM140 293h1v1h-1zM111 290h1v1h-1zM122 293h1v1h-1zM142 292h1v1h-1zM152 288h1v1h-1zM151 294h1v1h-1zM146 293h1v1h-1zM114 292h1v1h-1zM140 290h1v1h-1zM151 285h1v1h-1zM108 299h1v1h-1zM147 280h1v1h-1zM153 288h1v1h-1zM124 282h1v1h-1zM118 292h1v1h-1zM150 293h1v1h-1zM114 284h1v1h-1zM128 286h1v1h-1zM143 289h1v1h-1zM140 292h1v1h-1zM130 302h1v1h-1zM134 294h1v1h-1zM141 294h1v1h-1zM148 299h1v1h-1zM131 295h1v1h-1zM153 287h1v1h-1zM134 288h1v1h-1zM121 284h1v1h-1zM147 296h1v1h-1zM128 291h1v1h-1zM123 280h1v1h-1zM144 288h1v1h-1zM131 296h1v1h-1zM130 283h1v1h-1zM131 289h1v1h-1zM152 279h1v1h-1zM118 293h1v1h-1zM135 287h1v1h-1zM134 298h1v1h-1zM135 291h1v1h-1zM135 285h1v1h-1zM107 291h1v1h-1zM103 295h1v1h-1zM118 286h1v1h-1zM135 293h1v1h-1zM131 285h1v1h-1zM143 283h1v1h-1zM141 288h1v1h-1zM153 279h1v1h-1zM148 296h1v1h-1zM128 296h1v1h-1zM119 296h1v1h-1zM128 298h1v1h-1zM139 296h1v1h-1zM141 291h1v1h-1zM145 293h1v1h-1zM147 285h1v1h-1zM140 294h1v1h-1zM153 292h1v1h-1zM145 298h1v1h-1zM152 299h1v1h-1zM134 290h1v1h-1zM148 286h1v1h-1zM132 283h1v1h-1zM143 291h1v1h-1zM125 298h1v1h-1zM132 293h1v1h-1zM128 285h1v1h-1zM133 279h1v1h-1zM144 287h1v1h-1zM145 288h1v1h-1zM141 286h1v1h-1zM147 294h1v1h-1zM124 285h1v1h-1zM146 286h1v1h-1zM144 289h1v1h-1zM147 284h1v1h-1zM123 289h1v1h-1zM141 285h1v1h-1zM146 291h1v1h-1zM106 293h1v1h-1zM153 295h1v1h-1zM130 290h1v1h-1zM127 288h1v1h-1zM145 278h1v1h-1zM133 286h1v1h-1zM147 289h1v1h-1zM117 289h1v1h-1zM134 284h1v1h-1zM141 296h1v1h-1zM132 297h1v1h-1zM137 295h1v1h-1zM143 279h1v1h-1zM129 285h1v1h-1zM136 282h1v1h-1zM139 294h1v1h-1zM138 298h1v1h-1zM117 293h1v1h-1zM133 294h1v1h-1zM121 294h1v1h-1zM133 293h1v1h-1zM140 284h1v1h-1zM146 285h1v1h-1zM115 292h1v1h-1zM110 295h1v1h-1zM140 287h1v1h-1zM127 286h1v1h-1zM146 283h1v1h-1zM112 287h1v1h-1zM153 280h1v1h-1zM149 295h1v1h-1zM131 286h1v1h-1zM145 291h1v1h-1zM147 291h1v1h-1zM151 289h1v1h-1zM132 290h1v1h-1zM147 292h1v1h-1zM133 278h1v1h-1zM122 290h1v1h-1zM152 293h1v1h-1zM107 290h1v1h-1zM148 285h1v1h-1zM140 298h1v1h-1zM143 293h1v1h-1zM144 297h1v1h-1zM128 294h1v1h-1zM145 294h1v1h-1zM115 285h1v1h-1zM133 290h1v1h-1zM141 295h1v1h-1zM121 286h1v1h-1zM150 285h1v1h-1zM152 285h1v1h-1zM110 281h1v1h-1zM123 283h1v1h-1zM152 297h1v1h-1zM116 292h1v1h-1zM149 289h1v1h-1zM140 285h1v1h-1zM136 290h1v1h-1zM151 287h1v1h-1zM117 297h1v1h-1zM119 291h1v1h-1zM148 282h1v1h-1zM145 297h1v1h-1zM144 291h1v1h-1zM117 300h1v1h-1zM146 294h1v1h-1zM152 287h1v1h-1zM142 290h1v1h-1zM150 289h1v1h-1zM125 285h1v1h-1zM137 290h1v1h-1zM119 290h1v1h-1zM130 296h1v1h-1zM151 286h1v1h-1zM142 280h1v1h-1zM122 292h1v1h-1zM143 298h1v1h-1zM133 285h1v1h-1zM145 289h1v1h-1zM150 292h1v1h-1zM143 288h1v1h-1zM137 289h1v1h-1zM142 298h1v1h-1zM153 293h1v1h-1zM137 292h1v1h-1zM142 295h1v1h-1zM128 295h1v1h-1zM153 285h1v1h-1zM144 292h1v1h-1zM117 285h1v1h-1zM138 294h1v1h-1zM132 292h1v1h-1zM151 281h1v1h-1zM147 290h1v1h-1zM142 293h1v1h-1zM129 282h1v1h-1zM118 289h1v1h-1zM112 297h1v1h-1zM144 285h1v1h-1zM149 294h1v1h-1zM149 282h1v1h-1zM143 284h1v1h-1zM152 282h1v1h-1zM134 299h1v1h-1zM153 273h1v1h-1zM119 292h1v1h-1zM119 286h1v1h-1zM130 286h1v1h-1zM149 279h1v1h-1zM144 295h1v1h-1zM144 282h1v1h-1zM133 287h1v1h-1zM151 284h1v1h-1zM121 298h1v1h-1zM134 292h1v1h-1zM129 288h1v1h-1zM144 299h1v1h-1zM143 281h1v1h-1zM134 282h1v1h-1zM147 297h1v1h-1zM145 285h1v1h-1zM126 286h1v1h-1zM118 288h1v1h-1zM117 286h1v1h-1zM126 296h1v1h-1zM137 288h1v1h-1zM148 298h1v1h-1zM127 292h1v1h-1zM149 286h1v1h-1zM150 295h1v1h-1zM140 288h1v1h-1zM146 297h1v1h-1zM145 292h1v1h-1zM150 286h1v1h-1zM149 293h1v1h-1zM117 279h1v1h-1zM142 289h1v1h-1zM144 281h1v1h-1zM152 298h1v1h-1zM137 296h1v1h-1zM146 280h1v1h-1zM150 297h1v1h-1zM124 297h1v1h-1zM136 296h1v1h-1zM149 281h1v1h-1zM136 284h1v1h-1zM139 287h1v1h-1zM124 290h1v1h-1zM149 280h1v1h-1zM134 296h1v1h-1zM138 284h1v1h-1zM152 280h1v1h-1zM109 278h1v1h-1zM142 282h1v1h-1zM150 280h1v1h-1zM153 282h1v1h-1zM144 278h1v1h-1zM145 286h1v1h-1zM144 286h1v1h-1zM131 292h1v1h-1zM125 299h1v1h-1zM153 290h1v1h-1zM133 289h1v1h-1zM129 297h1v1h-1zM147 295h1v1h-1zM111 299h1v1h-1zM127 289h1v1h-1zM133 277h1v1h-1zM145 284h1v1h-1zM148 288h1v1h-1zM113 293h1v1h-1zM136 291h1v1h-1zM127 285h1v1h-1zM136 288h1v1h-1zM139 285h1v1h-1zM145 283h1v1h-1zM141 290h1v1h-1zM145 280h1v1h-1zM143 292h1v1h-1zM123 284h1v1h-1zM146 298h1v1h-1zM152 301h1v1h-1zM137 294h1v1h-1zM135 283h1v1h-1zM148 279h1v1h-1zM126 289h1v1h-1zM142 283h1v1h-1zM131 282h1v1h-1zM139 288h1v1h-1zM135 289h1v1h-1zM140 255h1v1h-1zM153 298h1v1h-1zM153 299h1v1h-1zM148 292h1v1h-1zM147 282h1v1h-1zM151 299h1v1h-1zM134 293h1v1h-1zM153 265h1v1h-1zM149 298h1v1h-1zM150 277h1v1h-1zM141 299h1v1h-1zM146 284h1v1h-1zM129 299h1v1h-1zM148 284h1v1h-1zM140 297h1v1h-1zM146 296h1v1h-1zM124 299h1v1h-1zM127 299h1v1h-1zM138 279h1v1h-1zM149 299h1v1h-1zM143 295h1v1h-1zM149 297h1v1h-1zM148 281h1v1h-1zM146 287h1v1h-1zM142 294h1v1h-1zM142 299h1v1h-1zM151 292h1v1h-1zM151 298h1v1h-1zM147 293h1v1h-1zM151 262h1v1h-1zM138 263h1v1h-1zM146 262h1v1h-1zM144 259h1v1h-1zM148 289h1v1h-1zM142 281h1v1h-1z" fill="#d01c1c" fill-opacity="1.0" filter="url(#soft)"/>
<line x1="105.6" y1="225" x2="105.6" y2="308.3" stroke="#333" stroke-width="0.9"/>
<line x1="64.4" y1="264.5" x2="154.3" y2="264.5" stroke="#333" stroke-width="0.9"/>
<line x1="64.4" y1="225" x2="64.4" y2="309.0" stroke="#1a1a44" stroke-width="1.5"/>
<line x1="63.7" y1="308.3" x2="154.3" y2="308.3" stroke="#1a1a44" stroke-width="1.5"/>
<line x1="62.60000000000001" y1="229.0" x2="64.4" y2="229.0" stroke="#1a1a44" stroke-width="0.6"/>
<line x1="62.60000000000001" y1="232.3" x2="64.4" y2="232.3" stroke="#1a1a44" stroke-width="0.6"/>
<line x1="62.60000000000001" y1="235.6" x2="64.4" y2="235.6" stroke="#1a1a44" stroke-width="0.6"/>
<line x1="62.60000000000001" y1="238.9" x2="64.4" y2="238.9" stroke="#1a1a44" stroke-width="0.6"/>
<line x1="62.60000000000001" y1="242.2" x2="64.4" y2="242.2" stroke="#1a1a44" stroke-width="0.6"/>
<line x1="62.60000000000001" y1="245.5" x2="64.4" y2="245.5" stroke="#1a1a44" stroke-width="0.6"/>
<line x1="62.60000000000001" y1="248.8" x2="64.4" y2="248.8" stroke="#1a1a44" stroke-width="0.6"/>
<line x1="62.60000000000001" y1="252.1" x2="64.4" y2="252.1" stroke="#1a1a44" stroke-width="0.6"/>
<line x1="62.60000000000001" y1="255.4" x2="64.4" y2="255.4" stroke="#1a1a44" stroke-width="0.6"/>
<line x1="62.60000000000001" y1="258.7" x2="64.4" y2="258.7" stroke="#1a1a44" stroke-width="0.6"/>
<line x1="62.60000000000001" y1="262.0" x2="64.4" y2="262.0" stroke="#1a1a44" stroke-width="0.6"/>
<line x1="62.60000000000001" y1="265.3" x2="64.4" y2="265.3" stroke="#1a1a44" stroke-width="0.6"/>
<line x1="62.60000000000001" y1="268.6" x2="64.4" y2="268.6" stroke="#1a1a44" stroke-width="0.6"/>
<line x1="62.60000000000001" y1="271.9" x2="64.4" y2="271.9" stroke="#1a1a44" stroke-width="0.6"/>
<line x1="62.60000000000001" y1="275.2" x2="64.4" y2="275.2" stroke="#1a1a44" stroke-width="0.6"/>
<line x1="62.60000000000001" y1="278.5" x2="64.4" y2="278.5" stroke="#1a1a44" stroke-width="0.6"/>
<line x1="62.60000000000001" y1="281.8" x2="64.4" y2="281.8" stroke="#1a1a44" stroke-width="0.6"/>
<line x1="62.60000000000001" y1="285.1" x2="64.4" y2="285.1" stroke="#1a1a44" stroke-width="0.6"/>
<line x1="62.60000000000001" y1="288.4" x2="64.4" y2="288.4" stroke="#1a1a44" stroke-width="0.6"/>
<line x1="62.60000000000001" y1="291.7" x2="64.4" y2="291.7" stroke="#1a1a44" stroke-width="0.6"/>
<line x1="62.60000000000001" y1="295.0" x2="64.4" y2="295.0" stroke="#1a1a44" stroke-width="0.6"/>
<line x1="62.60000000000001" y1="298.3" x2="64.4" y2="298.3" stroke="#1a1a44" stroke-width="0.6"/>
<line x1="62.60000000000001" y1="301.6" x2="64.4" y2="301.6" stroke="#1a1a44" stroke-width="0.6"/>
<line x1="62.60000000000001" y1="304.9" x2="64.4" y2="304.9" stroke="#1a1a44" stroke-width="0.6"/>
<line x1="62.60000000000001" y1="308.2" x2="64.4" y2="308.2" stroke="#1a1a44" stroke-width="0.6"/>
<line x1="67.4" y1="308.3" x2="67.4" y2="310.5" stroke="#1a1a44" stroke-width="0.6"/>
<line x1="70.7" y1="308.3" x2="70.7" y2="310.5" stroke="#1a1a44" stroke-width="0.6"/>
<line x1="74.0" y1="308.3" x2="74.0" y2="310.5" stroke="#1a1a44" stroke-width="0.6"/>
<line x1="77.3" y1="308.3" x2="77.3" y2="310.5" stroke="#1a1a44" stroke-width="0.6"/>
<line x1="80.6" y1="308.3" x2="80.6" y2="310.5" stroke="#1a1a44" stroke-width="0.6"/>
<line x1="83.9" y1="308.3" x2="83.9" y2="310.5" stroke="#1a1a44" stroke-width="0.6"/>
<line x1="87.2" y1="308.3" x2="87.2" y2="310.5" stroke="#1a1a44" stroke-width="0.6"/>
<line x1="90.5" y1="308.3" x2="90.5" y2="310.5" stroke="#1a1a44" stroke-width="0.6"/>
<line x1="93.8" y1="308.3" x2="93.8" y2="310.5" stroke="#1a1a44" stroke-width="0.6"/>
<line x1="97.1" y1="308.3" x2="97.1" y2="310.5" stroke="#1a1a44" stroke-width="0.6"/>
<line x1="100.4" y1="308.3" x2="100.4" y2="310.5" stroke="#1a1a44" stroke-width="0.6"/>
<line x1="103.7" y1="308.3" x2="103.7" y2="310.5" stroke="#1a1a44" stroke-width="0.6"/>
<line x1="107.0" y1="308.3" x2="107.0" y2="310.5" stroke="#1a1a44" stroke-width="0.6"/>
<line x1="110.3" y1="308.3" x2="110.3" y2="310.5" stroke="#1a1a44" stroke-width="0.6"/>
<line x1="113.6" y1="308.3" x2="113.6" y2="310.5" stroke="#1a1a44" stroke-width="0.6"/>
<line x1="116.9" y1="308.3" x2="116.9" y2="310.5" stroke="#1a1a44" stroke-width="0.6"/>
<line x1="120.2" y1="308.3" x2="120.2" y2="310.5" stroke="#1a1a44" stroke-width="0.6"/>
<line x1="123.5" y1="308.3" x2="123.5" y2="310.5" stroke="#1a1a44" stroke-width="0.6"/>
<line x1="126.8" y1="308.3" x2="126.8" y2="310.5" stroke="#1a1a44" stroke-width="0.6"/>
<line x1="130.1" y1="308.3" x2="130.1" y2="310.5" stroke="#1a1a44" stroke-width="0.6"/>
<line x1="133.4" y1="308.3" x2="133.4" y2="310.5" stroke="#1a1a44" stroke-width="0.6"/>
<line x1="136.7" y1="308.3" x2="136.7" y2="310.5" stroke="#1a1a44" stroke-width="0.6"/>
<line x1="140.0" y1="308.3" x2="140.0" y2="310.5" stroke="#1a1a44" stroke-width="0.6"/>
<line x1="143.3" y1="308.3" x2="143.3" y2="310.5" stroke="#1a1a44" stroke-width="0.6"/>
<line x1="146.6" y1="308.3" x2="146.6" y2="310.5" stroke="#1a1a44" stroke-width="0.6"/>
<line x1="149.9" y1="308.3" x2="149.9" y2="310.5" stroke="#1a1a44" stroke-width="0.6"/>
<line x1="153.2" y1="308.3" x2="153.2" y2="310.5" stroke="#1a1a44" stroke-width="0.6"/>
<text x="57.2" y="237.2" font-size="9.8" fill="#3a3a3a" text-anchor="end">10<tspan font-size="6.5" dy="-4.2">5</tspan></text>
<text x="57.2" y="256.5" font-size="9.8" fill="#3a3a3a" text-anchor="end">10<tspan font-size="6.5" dy="-4.2">4</tspan></text>
<text x="57.2" y="275.2" font-size="9.8" fill="#3a3a3a" text-anchor="end">10<tspan font-size="6.5" dy="-4.2">3</tspan></text>
<text x="57.2" y="296.2" font-size="9.8" fill="#3a3a3a" text-anchor="end">10<tspan font-size="6.5" dy="-4.2">2</tspan></text>
<text x="57.2" y="311.2" font-size="9.8" fill="#3a3a3a" text-anchor="end">-10<tspan font-size="6.5" dy="-4.2">2</tspan></text>
<text x="58.2" y="324.3" font-size="9.8" fill="#3a3a3a">-10<tspan font-size="6.5" dy="-4.2">1</tspan></text>
<text x="77.7" y="324.3" font-size="9.8" fill="#3a3a3a">10<tspan font-size="6.5" dy="-4.2">2</tspan></text>
<text x="98.5" y="324.3" font-size="9.8" fill="#3a3a3a">10<tspan font-size="6.5" dy="-4.2">3</tspan></text>
<text x="119.3" y="324.3" font-size="9.8" fill="#3a3a3a">10<tspan font-size="6.5" dy="-4.2">4</tspan></text>
<text x="138.5" y="324.3" font-size="9.8" fill="#3a3a3a">10<tspan font-size="6.5" dy="-4.2">5</tspan></text>
<text transform="translate(65,233.6)" font-size="9" fill="#222" textLength="19.6" lengthAdjust="spacingAndGlyphs" stroke="#222" stroke-width="0.3">2.57%</text>
<text transform="translate(153.7,233.6)" font-size="9" fill="#222" text-anchor="end" textLength="20" lengthAdjust="spacingAndGlyphs" stroke="#222" stroke-width="0.3">4.54%</text>
<text transform="translate(65,305.8)" font-size="9" fill="#222" textLength="23.5" lengthAdjust="spacingAndGlyphs" stroke="#222" stroke-width="0.3">21.75%</text>
<text transform="translate(153,305.8)" font-size="9" fill="#222" text-anchor="end" textLength="23.3" lengthAdjust="spacingAndGlyphs" stroke="#222" stroke-width="0.3">71.15%</text>
<path d="M217 296h1v1h-1zM214 266h1v1h-1zM226 293h1v1h-1zM222 292h1v1h-1zM214 295h1v1h-1zM211 272h1v1h-1zM223 281h1v1h-1zM225 294h1v1h-1zM214 289h1v1h-1zM215 269h1v1h-1zM223 305h1v1h-1zM217 300h1v1h-1zM212 285h1v1h-1zM214 298h1v1h-1zM214 296h1v1h-1zM214 270h1v1h-1zM212 277h1v1h-1zM210 279h1v1h-1zM226 288h1v1h-1zM215 300h1v1h-1zM222 294h1v1h-1zM224 293h1v1h-1zM224 296h1v1h-1zM224 278h1v1h-1zM212 273h1v1h-1zM223 298h1v1h-1zM226 282h1v1h-1zM217 268h1v1h-1zM211 290h1v1h-1zM215 287h1v1h-1zM225 284h1v1h-1zM228 300h1v1h-1zM223 283h1v1h-1zM210 274h1v1h-1zM213 296h1v1h-1zM210 278h1v1h-1zM215 295h1v1h-1zM212 289h1v1h-1zM213 288h1v1h-1zM221 299h1v1h-1zM222 293h1v1h-1zM208 280h1v1h-1zM211 280h1v1h-1zM221 295h1v1h-1zM223 292h1v1h-1zM213 272h1v1h-1zM212 281h1v1h-1zM221 288h1v1h-1zM213 298h1v1h-1zM212 291h1v1h-1zM218 264h1v1h-1zM212 295h1v1h-1zM211 282h1v1h-1zM220 294h1v1h-1zM213 292h1v1h-1zM225 286h1v1h-1zM215 268h1v1h-1zM216 291h1v1h-1zM227 291h1v1h-1zM215 294h1v1h-1zM215 284h1v1h-1zM216 289h1v1h-1zM212 271h1v1h-1zM219 298h1v1h-1zM224 294h1v1h-1zM213 269h1v1h-1zM216 264h1v1h-1zM229 262h1v1h-1zM228 285h1v1h-1zM228 270h1v1h-1zM219 274h1v1h-1zM223 269h1v1h-1zM219 273h1v1h-1zM215 264h1v1h-1zM224 263h1v1h-1zM227 285h1v1h-1zM221 269h1v1h-1zM216 267h1v1h-1zM217 265h1v1h-1zM224 262h1v1h-1zM224 274h1v1h-1zM220 264h1v1h-1zM216 271h1v1h-1zM220 267h1v1h-1zM221 274h1v1h-1zM225 263h1v1h-1zM224 281h1v1h-1zM211 285h1v1h-1zM226 262h1v1h-1zM214 262h1v1h-1zM227 273h1v1h-1zM226 280h1v1h-1zM225 279h1v1h-1zM221 265h1v1h-1zM223 265h1v1h-1zM229 271h1v1h-1zM224 264h1v1h-1zM225 281h1v1h-1zM218 263h1v1h-1zM222 269h1v1h-1zM216 263h1v1h-1zM224 269h1v1h-1zM224 276h1v1h-1zM217 267h1v1h-1zM221 266h1v1h-1zM217 272h1v1h-1zM227 281h1v1h-1zM216 265h1v1h-1zM224 270h1v1h-1zM206 294h1v1h-1zM218 300h1v1h-1zM214 299h1v1h-1zM210 272h1v1h-1zM206 296h1v1h-1zM235 281h1v1h-1zM220 302h1v1h-1zM225 301h1v1h-1zM217 299h1v1h-1zM224 295h1v1h-1zM207 287h1v1h-1zM222 299h1v1h-1zM230 292h1v1h-1zM214 287h1v1h-1zM210 280h1v1h-1zM207 276h1v1h-1zM223 274h1v1h-1zM213 275h1v1h-1zM203 257h1v1h-1zM229 294h1v1h-1zM218 256h1v1h-1zM204 286h1v1h-1zM219 301h1v1h-1zM216 253h1v1h-1zM226 258h1v1h-1zM226 285h1v1h-1zM228 282h1v1h-1zM209 283h1v1h-1zM209 266h1v1h-1zM211 257h1v1h-1zM212 286h1v1h-1zM224 259h1v1h-1zM214 269h1v1h-1zM222 305h1v1h-1zM225 287h1v1h-1zM231 286h1v1h-1zM213 276h1v1h-1zM211 258h1v1h-1zM230 301h1v1h-1zM208 271h1v1h-1zM216 261h1v1h-1zM207 280h1v1h-1zM205 289h1v1h-1zM216 295h1v1h-1zM227 289h1v1h-1zM234 286h1v1h-1zM225 293h1v1h-1zM217 259h1v1h-1zM219 267h1v1h-1zM216 305h1v1h-1zM229 264h1v1h-1zM228 302h1v1h-1zM206 283h1v1h-1zM215 298h1v1h-1zM206 289h1v1h-1zM224 288h1v1h-1zM211 276h1v1h-1zM210 285h1v1h-1zM231 284h1v1h-1zM205 267h1v1h-1zM211 299h1v1h-1zM201 274h1v1h-1zM207 253h1v1h-1zM211 274h1v1h-1zM210 283h1v1h-1zM211 291h1v1h-1zM203 270h1v1h-1zM206 293h1v1h-1zM230 285h1v1h-1zM224 302h1v1h-1zM206 287h1v1h-1zM208 273h1v1h-1zM231 269h1v1h-1zM213 266h1v1h-1zM210 270h1v1h-1zM218 272h1v1h-1zM207 283h1v1h-1zM216 262h1v1h-1zM217 297h1v1h-1zM229 258h1v1h-1zM228 290h1v1h-1zM235 266h1v1h-1zM233 262h1v1h-1zM227 269h1v1h-1zM233 260h1v1h-1zM238 259h1v1h-1zM238 257h1v1h-1zM231 268h1v1h-1zM228 260h1v1h-1zM238 264h1v1h-1zM226 267h1v1h-1zM228 263h1v1h-1zM222 266h1v1h-1zM231 267h1v1h-1zM225 269h1v1h-1zM233 269h1v1h-1zM231 262h1v1h-1zM231 258h1v1h-1zM233 257h1v1h-1zM230 259h1v1h-1zM237 262h1v1h-1zM232 261h1v1h-1zM227 268h1v1h-1zM233 261h1v1h-1zM238 261h1v1h-1zM226 270h1v1h-1zM234 262h1v1h-1zM233 267h1v1h-1zM230 266h1v1h-1zM227 272h1v1h-1zM230 260h1v1h-1zM231 263h1v1h-1zM227 263h1v1h-1zM230 263h1v1h-1zM229 267h1v1h-1zM236 268h1v1h-1zM238 258h1v1h-1zM227 266h1v1h-1zM228 271h1v1h-1zM235 262h1v1h-1zM229 260h1v1h-1zM234 268h1v1h-1zM230 265h1v1h-1zM231 265h1v1h-1zM234 282h1v1h-1zM245 260h1v1h-1zM252 259h1v1h-1zM256 257h1v1h-1zM280 234h1v1h-1zM242 266h1v1h-1zM231 274h1v1h-1zM249 268h1v1h-1zM253 256h1v1h-1zM253 265h1v1h-1zM233 277h1v1h-1zM279 240h1v1h-1zM270 245h1v1h-1zM250 267h1v1h-1zM252 255h1v1h-1zM238 275h1v1h-1zM275 234h1v1h-1zM250 266h1v1h-1zM233 272h1v1h-1zM249 258h1v1h-1zM230 282h1v1h-1zM266 258h1v1h-1zM246 262h1v1h-1zM242 274h1v1h-1zM233 270h1v1h-1zM230 274h1v1h-1zM225 278h1v1h-1zM267 258h1v1h-1zM256 251h1v1h-1zM234 273h1v1h-1zM236 279h1v1h-1zM277 251h1v1h-1zM254 255h1v1h-1zM258 267h1v1h-1zM244 259h1v1h-1zM256 256h1v1h-1zM241 265h1v1h-1zM240 266h1v1h-1zM254 253h1v1h-1zM237 271h1v1h-1zM254 254h1v1h-1zM273 257h1v1h-1zM234 270h1v1h-1zM282 252h1v1h-1zM250 269h1v1h-1zM268 246h1v1h-1zM248 260h1v1h-1zM279 236h1v1h-1zM245 261h1v1h-1zM265 262h1v1h-1zM262 246h1v1h-1zM248 268h1v1h-1zM280 250h1v1h-1zM266 259h1v1h-1zM268 243h1v1h-1zM264 246h1v1h-1zM281 252h1v1h-1zM264 259h1v1h-1zM257 253h1v1h-1zM245 262h1v1h-1zM253 269h1v1h-1zM235 270h1v1h-1zM263 260h1v1h-1zM235 280h1v1h-1zM231 278h1v1h-1zM279 253h1v1h-1zM278 238h1v1h-1zM281 250h1v1h-1zM271 236h1v1h-1zM285 236h1v1h-1zM269 260h1v1h-1zM271 240h1v1h-1zM246 259h1v1h-1zM247 259h1v1h-1zM239 271h1v1h-1zM272 255h1v1h-1zM284 252h1v1h-1zM246 257h1v1h-1zM286 234h1v1h-1zM268 259h1v1h-1zM266 244h1v1h-1zM239 279h1v1h-1zM255 265h1v1h-1zM237 274h1v1h-1zM238 267h1v1h-1zM226 277h1v1h-1zM229 281h1v1h-1zM238 280h1v1h-1zM232 273h1v1h-1zM272 252h1v1h-1zM255 259h1v1h-1zM275 238h1v1h-1zM250 272h1v1h-1zM243 266h1v1h-1zM284 233h1v1h-1zM244 276h1v1h-1zM278 254h1v1h-1zM233 275h1v1h-1zM233 274h1v1h-1zM228 278h1v1h-1zM245 265h1v1h-1zM230 279h1v1h-1zM233 271h1v1h-1zM228 277h1v1h-1zM229 275h1v1h-1zM246 272h1v1h-1zM240 264h1v1h-1zM266 246h1v1h-1zM246 264h1v1h-1zM242 261h1v1h-1zM285 249h1v1h-1zM247 274h1v1h-1zM269 247h1v1h-1zM262 249h1v1h-1zM247 260h1v1h-1zM265 260h1v1h-1zM234 272h1v1h-1zM230 272h1v1h-1zM242 276h1v1h-1zM271 255h1v1h-1zM238 278h1v1h-1zM263 264h1v1h-1zM249 272h1v1h-1zM257 252h1v1h-1zM230 273h1v1h-1zM258 253h1v1h-1zM281 238h1v1h-1zM285 233h1v1h-1zM232 284h1v1h-1zM279 251h1v1h-1zM235 271h1v1h-1zM283 234h1v1h-1zM236 272h1v1h-1zM235 277h1v1h-1zM262 252h1v1h-1zM252 260h1v1h-1zM281 236h1v1h-1zM240 273h1v1h-1zM255 266h1v1h-1zM240 279h1v1h-1zM253 273h1v1h-1zM241 264h1v1h-1zM227 283h1v1h-1zM288 239h1v1h-1zM256 264h1v1h-1zM233 280h1v1h-1zM260 262h1v1h-1zM232 276h1v1h-1zM264 257h1v1h-1zM256 271h1v1h-1zM230 275h1v1h-1zM286 248h1v1h-1zM261 246h1v1h-1zM272 257h1v1h-1zM287 249h1v1h-1zM250 255h1v1h-1zM242 275h1v1h-1zM229 279h1v1h-1zM226 279h1v1h-1zM262 267h1v1h-1zM267 263h1v1h-1zM243 275h1v1h-1zM244 262h1v1h-1zM288 240h1v1h-1zM264 247h1v1h-1zM265 261h1v1h-1zM245 276h1v1h-1zM258 247h1v1h-1zM235 275h1v1h-1zM254 260h1v1h-1zM249 267h1v1h-1zM250 258h1v1h-1zM267 257h1v1h-1zM239 276h1v1h-1zM232 287h1v1h-1zM239 264h1v1h-1zM232 274h1v1h-1zM267 246h1v1h-1zM248 270h1v1h-1zM269 250h1v1h-1zM263 259h1v1h-1zM274 255h1v1h-1zM252 250h1v1h-1zM268 238h1v1h-1zM284 236h1v1h-1zM274 254h1v1h-1zM226 281h1v1h-1zM231 283h1v1h-1zM255 253h1v1h-1zM264 261h1v1h-1zM237 265h1v1h-1zM262 247h1v1h-1zM261 264h1v1h-1zM233 289h1v1h-1zM257 246h1v1h-1zM270 233h1v1h-1zM260 270h1v1h-1zM232 275h1v1h-1zM265 258h1v1h-1zM272 263h1v1h-1zM267 265h1v1h-1zM264 249h1v1h-1zM272 242h1v1h-1zM251 257h1v1h-1zM236 290h1v1h-1zM276 256h1v1h-1zM287 251h1v1h-1zM266 234h1v1h-1zM243 259h1v1h-1zM252 276h1v1h-1zM268 264h1v1h-1zM260 243h1v1h-1zM251 258h1v1h-1zM234 255h1v1h-1zM257 251h1v1h-1zM270 258h1v1h-1zM263 251h1v1h-1zM259 265h1v1h-1zM265 236h1v1h-1zM280 253h1v1h-1zM278 250h1v1h-1zM260 248h1v1h-1zM246 271h1v1h-1zM275 263h1v1h-1zM240 276h1v1h-1zM278 251h1v1h-1zM243 278h1v1h-1zM284 251h1v1h-1zM252 278h1v1h-1zM261 250h1v1h-1zM239 261h1v1h-1zM256 254h1v1h-1zM271 235h1v1h-1zM257 266h1v1h-1zM270 241h1v1h-1zM259 276h1v1h-1zM245 269h1v1h-1zM276 253h1v1h-1zM283 250h1v1h-1zM261 267h1v1h-1zM258 246h1v1h-1zM266 264h1v1h-1zM253 271h1v1h-1zM238 276h1v1h-1zM237 277h1v1h-1zM257 248h1v1h-1zM273 233h1v1h-1zM273 261h1v1h-1zM263 249h1v1h-1zM256 249h1v1h-1zM241 282h1v1h-1zM281 235h1v1h-1zM248 254h1v1h-1zM269 241h1v1h-1zM277 252h1v1h-1zM227 274h1v1h-1zM245 256h1v1h-1zM246 276h1v1h-1zM267 242h1v1h-1zM255 268h1v1h-1zM261 247h1v1h-1zM244 273h1v1h-1zM240 258h1v1h-1zM243 279h1v1h-1zM272 262h1v1h-1zM275 235h1v1h-1zM247 271h1v1h-1zM268 241h1v1h-1zM237 281h1v1h-1zM257 271h1v1h-1zM244 275h1v1h-1zM252 279h1v1h-1zM250 254h1v1h-1zM287 244h1v1h-1zM253 254h1v1h-1zM250 249h1v1h-1zM259 248h1v1h-1zM237 270h1v1h-1zM246 279h1v1h-1zM235 269h1v1h-1zM246 252h1v1h-1zM235 268h1v1h-1zM242 259h1v1h-1zM264 244h1v1h-1zM228 275h1v1h-1zM262 261h1v1h-1zM279 255h1v1h-1zM238 265h1v1h-1zM264 266h1v1h-1zM231 279h1v1h-1zM271 239h1v1h-1zM249 257h1v1h-1zM232 270h1v1h-1zM232 269h1v1h-1zM258 272h1v1h-1zM237 272h1v1h-1zM269 263h1v1h-1zM275 239h1v1h-1zM280 251h1v1h-1zM288 243h1v1h-1zM278 234h1v1h-1zM287 234h1v1h-1zM269 242h1v1h-1zM281 234h1v1h-1zM288 250h1v1h-1zM271 237h1v1h-1zM276 235h1v1h-1zM273 243h1v1h-1zM288 246h1v1h-1zM273 240h1v1h-1zM272 239h1v1h-1zM266 243h1v1h-1zM284 249h1v1h-1zM274 242h1v1h-1zM268 233h1v1h-1zM275 236h1v1h-1zM270 239h1v1h-1zM288 237h1v1h-1zM285 248h1v1h-1zM281 254h1v1h-1zM279 235h1v1h-1zM276 233h1v1h-1zM287 246h1v1h-1zM277 234h1v1h-1zM278 237h1v1h-1zM200 287h1v1h-1zM215 261h1v1h-1zM255 285h1v1h-1zM263 303h1v1h-1zM227 248h1v1h-1zM251 290h1v1h-1zM248 303h1v1h-1zM234 299h1v1h-1zM286 289h1v1h-1zM275 304h1v1h-1zM223 297h1v1h-1zM263 268h1v1h-1zM262 262h1v1h-1zM203 264h1v1h-1zM286 263h1v1h-1zM280 296h1v1h-1zM233 291h1v1h-1zM247 250h1v1h-1zM254 294h1v1h-1zM223 250h1v1h-1zM260 299h1v1h-1zM216 255h1v1h-1zM252 286h1v1h-1zM277 253h1v1h-1zM277 288h1v1h-1zM285 253h1v1h-1zM245 253h1v1h-1zM242 291h1v1h-1zM245 303h1v1h-1zM201 269h1v1h-1zM250 297h1v1h-1zM233 292h1v1h-1zM251 283h1v1h-1zM229 251h1v1h-1zM264 292h1v1h-1zM287 253h1v1h-1zM250 273h1v1h-1zM213 299h1v1h-1zM269 300h1v1h-1zM209 251h1v1h-1zM286 267h1v1h-1zM236 253h1v1h-1zM263 291h1v1h-1zM221 254h1v1h-1zM218 262h1v1h-1zM207 275h1v1h-1zM249 296h1v1h-1zM236 302h1v1h-1zM241 289h1v1h-1zM209 293h1v1h-1zM255 277h1v1h-1zM282 268h1v1h-1zM225 250h1v1h-1zM216 257h1v1h-1zM259 304h1v1h-1zM286 295h1v1h-1zM275 295h1v1h-1zM249 287h1v1h-1zM208 265h1v1h-1zM274 294h1v1h-1zM256 273h1v1h-1zM254 292h1v1h-1zM230 295h1v1h-1zM239 235h1v1h-1zM240 245h1v1h-1zM226 233h1v1h-1zM253 237h1v1h-1zM222 245h1v1h-1zM261 242h1v1h-1zM233 238h1v1h-1zM204 243h1v1h-1zM207 240h1v1h-1zM248 246h1v1h-1zM219 240h1v1h-1zM235 241h1v1h-1zM230 234h1v1h-1zM258 236h1v1h-1z" fill="#d01c1c" fill-opacity="0.5" filter="url(#soft)"/>
<path d="M215 288h1v1h-1zM217 293h1v1h-1zM214 292h1v1h-1zM212 284h1v1h-1zM219 293h1v1h-1zM221 278h1v1h-1zM217 295h1v1h-1zM215 290h1v1h-1zM215 271h1v1h-1zM220 282h1v1h-1zM215 291h1v1h-1zM219 297h1v1h-1zM216 273h1v1h-1zM215 275h1v1h-1zM221 294h1v1h-1zM217 292h1v1h-1zM216 290h1v1h-1zM225 288h1v1h-1zM220 292h1v1h-1zM218 289h1v1h-1zM212 274h1v1h-1zM214 290h1v1h-1zM213 280h1v1h-1zM224 284h1v1h-1zM216 293h1v1h-1zM223 291h1v1h-1zM219 294h1v1h-1zM219 299h1v1h-1zM212 287h1v1h-1zM219 265h1v1h-1zM223 290h1v1h-1zM216 296h1v1h-1zM213 282h1v1h-1zM211 281h1v1h-1zM213 285h1v1h-1zM215 289h1v1h-1zM221 296h1v1h-1zM215 273h1v1h-1zM221 282h1v1h-1zM214 281h1v1h-1zM221 293h1v1h-1zM224 275h1v1h-1zM215 299h1v1h-1zM211 283h1v1h-1zM208 275h1v1h-1zM218 270h1v1h-1zM214 274h1v1h-1zM218 278h1v1h-1zM218 294h1v1h-1zM223 296h1v1h-1zM222 279h1v1h-1zM214 271h1v1h-1zM211 293h1v1h-1zM223 295h1v1h-1zM222 287h1v1h-1zM214 286h1v1h-1zM215 272h1v1h-1zM215 279h1v1h-1zM213 284h1v1h-1zM213 289h1v1h-1zM223 285h1v1h-1zM221 268h1v1h-1zM228 280h1v1h-1zM222 270h1v1h-1zM224 282h1v1h-1zM224 280h1v1h-1zM219 272h1v1h-1zM226 272h1v1h-1zM225 275h1v1h-1zM217 276h1v1h-1zM219 264h1v1h-1zM224 273h1v1h-1zM231 266h1v1h-1zM223 262h1v1h-1zM220 262h1v1h-1zM223 276h1v1h-1zM218 275h1v1h-1zM227 277h1v1h-1zM218 265h1v1h-1zM222 277h1v1h-1zM223 275h1v1h-1zM225 273h1v1h-1zM219 262h1v1h-1zM225 264h1v1h-1zM230 271h1v1h-1zM218 267h1v1h-1zM223 284h1v1h-1zM225 274h1v1h-1zM224 271h1v1h-1zM223 280h1v1h-1zM226 263h1v1h-1zM224 265h1v1h-1zM222 268h1v1h-1zM220 274h1v1h-1zM214 284h1v1h-1zM216 266h1v1h-1zM222 273h1v1h-1zM226 278h1v1h-1zM225 268h1v1h-1zM226 268h1v1h-1zM226 264h1v1h-1zM219 266h1v1h-1zM222 264h1v1h-1zM223 266h1v1h-1zM225 282h1v1h-1zM213 273h1v1h-1zM221 270h1v1h-1zM225 277h1v1h-1zM226 284h1v1h-1zM211 296h1v1h-1zM229 274h1v1h-1zM212 282h1v1h-1zM209 297h1v1h-1zM227 279h1v1h-1zM227 280h1v1h-1zM230 267h1v1h-1zM236 263h1v1h-1zM234 264h1v1h-1zM228 262h1v1h-1zM236 265h1v1h-1zM239 259h1v1h-1zM236 262h1v1h-1zM236 264h1v1h-1zM227 262h1v1h-1zM237 264h1v1h-1zM236 261h1v1h-1zM237 266h1v1h-1zM228 264h1v1h-1zM229 263h1v1h-1zM243 261h1v1h-1zM233 265h1v1h-1zM260 263h1v1h-1zM240 263h1v1h-1zM276 239h1v1h-1zM252 256h1v1h-1zM248 274h1v1h-1zM274 241h1v1h-1zM247 269h1v1h-1zM261 249h1v1h-1zM269 254h1v1h-1zM261 253h1v1h-1zM261 261h1v1h-1zM250 260h1v1h-1zM273 252h1v1h-1zM233 273h1v1h-1zM248 263h1v1h-1zM263 250h1v1h-1zM253 267h1v1h-1zM245 270h1v1h-1zM275 252h1v1h-1zM277 241h1v1h-1zM236 278h1v1h-1zM283 236h1v1h-1zM261 254h1v1h-1zM229 276h1v1h-1zM259 252h1v1h-1zM277 236h1v1h-1zM258 249h1v1h-1zM231 277h1v1h-1zM260 251h1v1h-1zM259 267h1v1h-1zM271 256h1v1h-1zM235 278h1v1h-1zM241 268h1v1h-1zM245 267h1v1h-1zM241 270h1v1h-1zM247 267h1v1h-1zM280 236h1v1h-1zM259 264h1v1h-1zM256 262h1v1h-1zM244 268h1v1h-1zM248 269h1v1h-1zM284 245h1v1h-1zM241 273h1v1h-1zM257 265h1v1h-1zM231 276h1v1h-1zM240 271h1v1h-1zM255 256h1v1h-1zM253 258h1v1h-1zM247 266h1v1h-1zM269 246h1v1h-1zM254 259h1v1h-1zM261 262h1v1h-1zM268 255h1v1h-1zM261 248h1v1h-1zM267 259h1v1h-1zM236 276h1v1h-1zM245 271h1v1h-1zM263 254h1v1h-1zM243 264h1v1h-1zM277 254h1v1h-1zM258 266h1v1h-1zM248 261h1v1h-1zM259 254h1v1h-1zM249 266h1v1h-1zM239 266h1v1h-1zM271 252h1v1h-1zM252 265h1v1h-1zM261 257h1v1h-1zM238 268h1v1h-1zM259 251h1v1h-1zM229 277h1v1h-1zM254 258h1v1h-1zM240 280h1v1h-1zM243 277h1v1h-1zM287 248h1v1h-1zM239 268h1v1h-1zM285 237h1v1h-1zM285 235h1v1h-1zM232 277h1v1h-1zM236 267h1v1h-1zM260 261h1v1h-1zM279 249h1v1h-1zM274 243h1v1h-1zM263 247h1v1h-1zM268 258h1v1h-1zM265 249h1v1h-1zM274 251h1v1h-1zM268 247h1v1h-1zM236 275h1v1h-1zM260 258h1v1h-1zM238 270h1v1h-1zM260 265h1v1h-1zM284 247h1v1h-1zM228 273h1v1h-1zM287 236h1v1h-1zM252 267h1v1h-1zM262 258h1v1h-1zM262 248h1v1h-1zM251 261h1v1h-1zM237 269h1v1h-1zM238 269h1v1h-1zM250 270h1v1h-1zM274 252h1v1h-1zM257 257h1v1h-1zM235 276h1v1h-1zM269 257h1v1h-1zM271 254h1v1h-1zM279 254h1v1h-1zM275 249h1v1h-1zM255 257h1v1h-1zM268 256h1v1h-1zM275 253h1v1h-1zM262 264h1v1h-1zM240 265h1v1h-1zM273 253h1v1h-1zM251 271h1v1h-1zM265 263h1v1h-1zM249 262h1v1h-1zM252 264h1v1h-1zM253 257h1v1h-1zM233 276h1v1h-1zM272 249h1v1h-1zM269 255h1v1h-1zM268 245h1v1h-1zM258 254h1v1h-1zM283 235h1v1h-1zM240 275h1v1h-1zM267 245h1v1h-1zM242 271h1v1h-1zM266 251h1v1h-1zM261 251h1v1h-1zM285 245h1v1h-1zM276 252h1v1h-1zM283 249h1v1h-1zM247 261h1v1h-1zM239 277h1v1h-1zM266 242h1v1h-1zM266 261h1v1h-1zM273 241h1v1h-1zM245 263h1v1h-1zM254 264h1v1h-1zM285 247h1v1h-1zM237 275h1v1h-1zM274 253h1v1h-1zM257 263h1v1h-1zM241 263h1v1h-1zM270 244h1v1h-1zM275 254h1v1h-1zM250 263h1v1h-1zM262 263h1v1h-1zM279 237h1v1h-1zM269 243h1v1h-1zM230 278h1v1h-1zM251 270h1v1h-1zM261 260h1v1h-1zM271 245h1v1h-1zM282 246h1v1h-1zM287 247h1v1h-1zM273 239h1v1h-1zM282 247h1v1h-1zM279 234h1v1h-1zM243 274h1v1h-1zM230 280h1v1h-1zM259 266h1v1h-1zM263 263h1v1h-1zM232 280h1v1h-1zM278 236h1v1h-1zM280 256h1v1h-1zM271 241h1v1h-1zM281 233h1v1h-1zM276 237h1v1h-1zM274 237h1v1h-1zM283 251h1v1h-1zM272 236h1v1h-1zM276 236h1v1h-1z" fill="#d01c1c" fill-opacity="0.8" filter="url(#soft)"/>
<path d="M215 286h1v1h-1zM214 291h1v1h-1zM219 281h1v1h-1zM214 279h1v1h-1zM218 279h1v1h-1zM219 291h1v1h-1zM219 275h1v1h-1zM217 278h1v1h-1zM214 285h1v1h-1zM217 287h1v1h-1zM217 288h1v1h-1zM217 286h1v1h-1zM222 295h1v1h-1zM215 270h1v1h-1zM214 293h1v1h-1zM224 289h1v1h-1zM222 281h1v1h-1zM220 288h1v1h-1zM220 284h1v1h-1zM217 290h1v1h-1zM215 277h1v1h-1zM220 290h1v1h-1zM221 290h1v1h-1zM219 283h1v1h-1zM220 276h1v1h-1zM215 293h1v1h-1zM220 273h1v1h-1zM216 285h1v1h-1zM218 282h1v1h-1zM214 282h1v1h-1zM220 296h1v1h-1zM218 277h1v1h-1zM218 291h1v1h-1zM218 286h1v1h-1zM220 291h1v1h-1zM219 277h1v1h-1zM219 276h1v1h-1zM219 282h1v1h-1zM222 280h1v1h-1zM217 283h1v1h-1zM212 283h1v1h-1zM217 279h1v1h-1zM219 288h1v1h-1zM217 281h1v1h-1zM216 277h1v1h-1zM216 281h1v1h-1zM214 276h1v1h-1zM218 297h1v1h-1zM218 287h1v1h-1zM216 292h1v1h-1zM220 287h1v1h-1zM222 278h1v1h-1zM216 282h1v1h-1zM221 279h1v1h-1zM221 280h1v1h-1zM221 289h1v1h-1zM216 294h1v1h-1zM219 279h1v1h-1zM219 284h1v1h-1zM218 274h1v1h-1zM219 292h1v1h-1zM219 290h1v1h-1zM217 274h1v1h-1zM218 288h1v1h-1zM223 282h1v1h-1zM216 286h1v1h-1zM214 277h1v1h-1zM213 286h1v1h-1zM220 281h1v1h-1zM223 279h1v1h-1zM217 277h1v1h-1zM218 299h1v1h-1zM219 296h1v1h-1zM223 289h1v1h-1zM216 274h1v1h-1zM215 274h1v1h-1zM221 275h1v1h-1zM216 283h1v1h-1zM221 285h1v1h-1zM222 291h1v1h-1zM219 285h1v1h-1zM218 293h1v1h-1zM220 279h1v1h-1zM218 284h1v1h-1zM220 280h1v1h-1zM221 297h1v1h-1zM220 277h1v1h-1zM221 283h1v1h-1zM215 280h1v1h-1zM219 270h1v1h-1zM222 275h1v1h-1zM215 281h1v1h-1zM217 291h1v1h-1zM216 276h1v1h-1zM217 284h1v1h-1zM222 285h1v1h-1zM214 278h1v1h-1zM218 296h1v1h-1zM215 282h1v1h-1zM217 275h1v1h-1zM224 277h1v1h-1zM219 268h1v1h-1zM215 285h1v1h-1zM224 291h1v1h-1zM221 286h1v1h-1zM214 280h1v1h-1zM218 290h1v1h-1zM217 280h1v1h-1zM220 286h1v1h-1zM222 289h1v1h-1zM218 283h1v1h-1zM220 293h1v1h-1zM220 285h1v1h-1zM220 289h1v1h-1zM213 283h1v1h-1zM217 289h1v1h-1zM222 296h1v1h-1zM220 283h1v1h-1zM219 295h1v1h-1zM224 283h1v1h-1zM220 275h1v1h-1zM218 292h1v1h-1zM213 287h1v1h-1zM222 283h1v1h-1zM217 282h1v1h-1zM215 278h1v1h-1zM223 286h1v1h-1zM218 273h1v1h-1zM216 278h1v1h-1zM216 287h1v1h-1zM220 295h1v1h-1zM218 280h1v1h-1zM220 269h1v1h-1zM218 281h1v1h-1zM218 285h1v1h-1zM217 294h1v1h-1zM221 284h1v1h-1zM219 286h1v1h-1zM219 289h1v1h-1zM219 287h1v1h-1zM221 292h1v1h-1zM218 295h1v1h-1zM220 271h1v1h-1zM222 288h1v1h-1zM214 283h1v1h-1zM219 269h1v1h-1zM213 281h1v1h-1zM216 288h1v1h-1zM216 284h1v1h-1zM217 285h1v1h-1zM223 277h1v1h-1zM219 280h1v1h-1zM220 278h1v1h-1zM216 279h1v1h-1zM212 279h1v1h-1zM217 271h1v1h-1zM222 290h1v1h-1zM214 273h1v1h-1zM213 277h1v1h-1zM216 268h1v1h-1zM216 280h1v1h-1zM213 278h1v1h-1zM212 278h1v1h-1zM222 265h1v1h-1zM214 275h1v1h-1zM222 282h1v1h-1zM218 276h1v1h-1zM217 270h1v1h-1zM222 276h1v1h-1zM219 278h1v1h-1zM221 281h1v1h-1zM221 277h1v1h-1zM218 271h1v1h-1zM218 269h1v1h-1zM221 276h1v1h-1zM218 268h1v1h-1zM224 272h1v1h-1zM217 264h1v1h-1zM221 264h1v1h-1zM223 271h1v1h-1zM219 271h1v1h-1zM224 268h1v1h-1zM224 266h1v1h-1zM221 273h1v1h-1zM223 278h1v1h-1zM221 263h1v1h-1zM217 269h1v1h-1zM222 263h1v1h-1zM224 267h1v1h-1zM217 262h1v1h-1zM220 263h1v1h-1zM222 267h1v1h-1zM227 270h1v1h-1zM225 266h1v1h-1zM220 268h1v1h-1zM221 267h1v1h-1zM220 265h1v1h-1zM220 272h1v1h-1zM223 263h1v1h-1zM221 271h1v1h-1zM225 265h1v1h-1zM226 265h1v1h-1zM226 269h1v1h-1zM222 262h1v1h-1zM222 272h1v1h-1zM226 273h1v1h-1zM223 264h1v1h-1zM216 272h1v1h-1zM222 271h1v1h-1zM227 276h1v1h-1zM225 267h1v1h-1zM224 285h1v1h-1zM227 264h1v1h-1zM222 274h1v1h-1zM225 270h1v1h-1zM216 269h1v1h-1zM223 268h1v1h-1zM229 265h1v1h-1zM215 263h1v1h-1zM221 272h1v1h-1zM215 267h1v1h-1zM223 267h1v1h-1zM228 267h1v1h-1zM210 291h1v1h-1zM220 266h1v1h-1zM231 264h1v1h-1zM238 263h1v1h-1zM228 266h1v1h-1zM229 268h1v1h-1zM232 267h1v1h-1zM230 264h1v1h-1zM233 264h1v1h-1zM235 267h1v1h-1zM236 266h1v1h-1zM262 255h1v1h-1zM245 272h1v1h-1zM280 241h1v1h-1zM272 247h1v1h-1zM246 261h1v1h-1zM263 255h1v1h-1zM287 239h1v1h-1zM248 264h1v1h-1zM276 242h1v1h-1zM244 263h1v1h-1zM244 269h1v1h-1zM246 269h1v1h-1zM281 243h1v1h-1zM278 242h1v1h-1zM285 243h1v1h-1zM272 244h1v1h-1zM259 257h1v1h-1zM279 244h1v1h-1zM277 243h1v1h-1zM276 245h1v1h-1zM265 254h1v1h-1zM276 248h1v1h-1zM248 266h1v1h-1zM260 256h1v1h-1zM261 252h1v1h-1zM284 239h1v1h-1zM275 251h1v1h-1zM249 260h1v1h-1zM282 242h1v1h-1zM273 255h1v1h-1zM256 263h1v1h-1zM271 250h1v1h-1zM270 247h1v1h-1zM239 270h1v1h-1zM283 238h1v1h-1zM274 249h1v1h-1zM256 261h1v1h-1zM274 247h1v1h-1zM279 245h1v1h-1zM284 235h1v1h-1zM269 252h1v1h-1zM255 264h1v1h-1zM280 240h1v1h-1zM257 254h1v1h-1zM279 238h1v1h-1zM263 262h1v1h-1zM233 278h1v1h-1zM268 249h1v1h-1zM265 252h1v1h-1zM238 271h1v1h-1zM280 245h1v1h-1zM258 255h1v1h-1zM273 251h1v1h-1zM277 248h1v1h-1zM264 260h1v1h-1zM241 272h1v1h-1zM282 245h1v1h-1zM259 262h1v1h-1zM267 255h1v1h-1zM271 249h1v1h-1zM261 255h1v1h-1zM286 237h1v1h-1zM273 249h1v1h-1zM235 274h1v1h-1zM267 250h1v1h-1zM256 259h1v1h-1zM268 252h1v1h-1zM285 244h1v1h-1zM251 263h1v1h-1zM282 244h1v1h-1zM265 255h1v1h-1zM278 244h1v1h-1zM262 251h1v1h-1zM267 254h1v1h-1zM282 235h1v1h-1zM259 256h1v1h-1zM270 254h1v1h-1zM287 238h1v1h-1zM285 246h1v1h-1zM276 240h1v1h-1zM286 242h1v1h-1zM256 268h1v1h-1zM277 247h1v1h-1zM268 253h1v1h-1zM284 242h1v1h-1zM234 278h1v1h-1zM247 265h1v1h-1zM258 261h1v1h-1zM256 258h1v1h-1zM280 242h1v1h-1zM279 243h1v1h-1zM276 244h1v1h-1zM252 266h1v1h-1zM260 254h1v1h-1zM284 240h1v1h-1zM248 267h1v1h-1zM277 250h1v1h-1zM274 250h1v1h-1zM255 263h1v1h-1zM287 237h1v1h-1zM287 240h1v1h-1zM283 237h1v1h-1zM286 240h1v1h-1zM263 253h1v1h-1zM247 268h1v1h-1zM258 256h1v1h-1zM255 260h1v1h-1zM257 256h1v1h-1zM284 234h1v1h-1zM276 241h1v1h-1zM266 249h1v1h-1zM240 274h1v1h-1zM270 255h1v1h-1zM260 257h1v1h-1zM249 270h1v1h-1zM270 252h1v1h-1zM267 252h1v1h-1zM256 255h1v1h-1zM255 258h1v1h-1zM258 258h1v1h-1zM275 246h1v1h-1zM258 259h1v1h-1zM271 253h1v1h-1zM270 250h1v1h-1zM267 256h1v1h-1zM262 257h1v1h-1zM257 261h1v1h-1zM249 263h1v1h-1zM282 243h1v1h-1zM254 263h1v1h-1zM279 250h1v1h-1zM277 238h1v1h-1zM278 246h1v1h-1zM259 261h1v1h-1zM283 240h1v1h-1zM235 272h1v1h-1zM266 255h1v1h-1zM265 248h1v1h-1zM276 249h1v1h-1zM265 251h1v1h-1zM242 270h1v1h-1zM257 260h1v1h-1zM281 241h1v1h-1zM246 267h1v1h-1zM260 259h1v1h-1zM247 263h1v1h-1zM253 261h1v1h-1zM274 248h1v1h-1zM264 254h1v1h-1zM273 254h1v1h-1zM276 246h1v1h-1zM255 261h1v1h-1zM273 246h1v1h-1zM259 260h1v1h-1zM280 244h1v1h-1zM264 255h1v1h-1zM251 267h1v1h-1zM232 271h1v1h-1zM258 262h1v1h-1zM272 251h1v1h-1zM278 249h1v1h-1zM251 262h1v1h-1zM272 254h1v1h-1zM262 256h1v1h-1zM279 239h1v1h-1zM282 240h1v1h-1zM243 271h1v1h-1zM285 238h1v1h-1zM286 246h1v1h-1zM283 239h1v1h-1zM284 241h1v1h-1zM278 245h1v1h-1zM271 247h1v1h-1zM243 269h1v1h-1zM278 241h1v1h-1zM250 264h1v1h-1zM275 248h1v1h-1zM285 242h1v1h-1zM278 243h1v1h-1zM266 254h1v1h-1zM256 260h1v1h-1zM276 251h1v1h-1zM262 260h1v1h-1zM242 269h1v1h-1zM262 253h1v1h-1zM279 248h1v1h-1zM242 264h1v1h-1zM276 250h1v1h-1zM249 265h1v1h-1zM279 242h1v1h-1zM236 274h1v1h-1zM239 274h1v1h-1zM261 259h1v1h-1zM251 265h1v1h-1zM280 246h1v1h-1zM282 233h1v1h-1zM234 276h1v1h-1zM275 247h1v1h-1zM250 265h1v1h-1zM269 253h1v1h-1zM250 262h1v1h-1zM244 267h1v1h-1zM247 270h1v1h-1zM244 266h1v1h-1zM253 259h1v1h-1zM250 268h1v1h-1zM284 243h1v1h-1zM246 265h1v1h-1zM280 237h1v1h-1zM282 238h1v1h-1zM260 260h1v1h-1zM252 263h1v1h-1zM243 268h1v1h-1zM271 243h1v1h-1zM267 251h1v1h-1zM282 237h1v1h-1zM273 247h1v1h-1zM287 241h1v1h-1zM243 267h1v1h-1zM244 271h1v1h-1zM273 248h1v1h-1zM264 252h1v1h-1zM253 260h1v1h-1zM274 239h1v1h-1zM288 245h1v1h-1zM272 246h1v1h-1zM285 241h1v1h-1zM273 250h1v1h-1zM258 257h1v1h-1zM263 252h1v1h-1zM266 253h1v1h-1zM286 238h1v1h-1zM250 261h1v1h-1zM234 277h1v1h-1zM257 262h1v1h-1zM259 258h1v1h-1zM248 271h1v1h-1zM249 264h1v1h-1zM265 256h1v1h-1zM283 241h1v1h-1zM244 272h1v1h-1zM235 273h1v1h-1zM258 264h1v1h-1zM275 244h1v1h-1zM234 275h1v1h-1zM264 250h1v1h-1zM231 272h1v1h-1zM280 247h1v1h-1zM275 245h1v1h-1zM282 241h1v1h-1zM268 250h1v1h-1zM280 243h1v1h-1zM263 256h1v1h-1zM263 257h1v1h-1zM253 266h1v1h-1zM284 238h1v1h-1zM268 254h1v1h-1zM270 248h1v1h-1zM285 234h1v1h-1zM275 242h1v1h-1zM259 259h1v1h-1zM266 250h1v1h-1zM248 262h1v1h-1zM286 235h1v1h-1zM245 266h1v1h-1zM281 239h1v1h-1zM279 247h1v1h-1zM255 255h1v1h-1zM285 239h1v1h-1zM266 256h1v1h-1zM255 262h1v1h-1zM252 262h1v1h-1zM272 245h1v1h-1zM284 246h1v1h-1zM265 253h1v1h-1zM274 240h1v1h-1zM286 236h1v1h-1zM251 264h1v1h-1zM264 258h1v1h-1zM288 242h1v1h-1zM269 251h1v1h-1zM261 258h1v1h-1zM245 268h1v1h-1zM284 237h1v1h-1zM270 246h1v1h-1zM253 264h1v1h-1zM262 254h1v1h-1zM246 266h1v1h-1zM276 247h1v1h-1zM259 255h1v1h-1zM266 257h1v1h-1zM268 248h1v1h-1zM277 249h1v1h-1zM248 265h1v1h-1zM281 244h1v1h-1zM281 247h1v1h-1zM240 270h1v1h-1zM274 245h1v1h-1zM258 263h1v1h-1zM274 244h1v1h-1zM229 278h1v1h-1zM240 272h1v1h-1zM244 265h1v1h-1zM277 240h1v1h-1zM260 252h1v1h-1zM257 264h1v1h-1zM277 242h1v1h-1zM246 270h1v1h-1zM275 250h1v1h-1zM254 262h1v1h-1zM229 282h1v1h-1zM286 239h1v1h-1zM231 275h1v1h-1zM267 247h1v1h-1zM283 245h1v1h-1zM241 269h1v1h-1zM282 248h1v1h-1zM244 264h1v1h-1zM240 267h1v1h-1zM278 248h1v1h-1zM285 240h1v1h-1zM278 247h1v1h-1zM266 252h1v1h-1zM269 248h1v1h-1zM272 250h1v1h-1zM264 256h1v1h-1zM247 264h1v1h-1zM268 257h1v1h-1zM242 272h1v1h-1zM283 242h1v1h-1zM253 262h1v1h-1zM273 242h1v1h-1zM247 272h1v1h-1zM281 240h1v1h-1zM280 249h1v1h-1zM258 260h1v1h-1zM272 248h1v1h-1zM271 251h1v1h-1zM286 244h1v1h-1zM279 246h1v1h-1zM264 253h1v1h-1zM271 244h1v1h-1zM270 249h1v1h-1zM286 241h1v1h-1zM272 243h1v1h-1zM254 265h1v1h-1zM242 265h1v1h-1zM274 246h1v1h-1zM269 249h1v1h-1zM281 237h1v1h-1zM271 248h1v1h-1zM254 261h1v1h-1zM279 241h1v1h-1zM238 273h1v1h-1zM242 268h1v1h-1zM283 243h1v1h-1zM242 273h1v1h-1zM281 246h1v1h-1zM268 251h1v1h-1zM280 239h1v1h-1zM265 247h1v1h-1zM283 247h1v1h-1zM241 271h1v1h-1zM278 240h1v1h-1zM243 272h1v1h-1zM286 245h1v1h-1zM237 273h1v1h-1zM266 247h1v1h-1zM260 253h1v1h-1zM287 242h1v1h-1zM273 245h1v1h-1zM251 266h1v1h-1zM246 268h1v1h-1zM277 246h1v1h-1zM259 253h1v1h-1zM267 249h1v1h-1zM257 255h1v1h-1zM249 261h1v1h-1zM283 246h1v1h-1zM272 253h1v1h-1zM240 269h1v1h-1zM284 244h1v1h-1zM269 256h1v1h-1zM249 269h1v1h-1zM277 245h1v1h-1zM288 238h1v1h-1zM270 243h1v1h-1zM270 251h1v1h-1zM280 248h1v1h-1zM281 242h1v1h-1zM244 270h1v1h-1zM271 246h1v1h-1zM236 271h1v1h-1zM254 257h1v1h-1zM282 239h1v1h-1zM260 255h1v1h-1zM275 241h1v1h-1zM258 265h1v1h-1zM275 243h1v1h-1zM283 244h1v1h-1zM287 243h1v1h-1zM287 245h1v1h-1zM267 253h1v1h-1zM265 257h1v1h-1zM257 259h1v1h-1zM281 245h1v1h-1zM261 256h1v1h-1zM241 267h1v1h-1zM276 243h1v1h-1zM273 244h1v1h-1zM282 249h1v1h-1zM265 250h1v1h-1zM253 263h1v1h-1zM245 264h1v1h-1zM281 249h1v1h-1zM288 241h1v1h-1zM280 238h1v1h-1zM277 244h1v1h-1zM239 272h1v1h-1zM251 260h1v1h-1zM277 237h1v1h-1zM270 253h1v1h-1zM278 239h1v1h-1zM282 236h1v1h-1zM251 259h1v1h-1zM240 268h1v1h-1zM246 273h1v1h-1zM275 240h1v1h-1zM252 258h1v1h-1zM284 248h1v1h-1zM277 239h1v1h-1z" fill="#d01c1c" fill-opacity="1.0" filter="url(#soft)"/>
<line x1="238.4" y1="227.5" x2="238.4" y2="308.3" stroke="#333" stroke-width="0.9"/>
<line x1="197.1" y1="266.1" x2="288.4" y2="266.1" stroke="#333" stroke-width="0.9"/>
<line x1="197.1" y1="227.5" x2="197.1" y2="309.0" stroke="#1a1a44" stroke-width="1.5"/>
<line x1="196.4" y1="308.3" x2="288.4" y2="308.3" stroke="#1a1a44" stroke-width="1.5"/>
<line x1="195.29999999999998" y1="231.5" x2="197.1" y2="231.5" stroke="#1a1a44" stroke-width="0.6"/>
<line x1="195.29999999999998" y1="234.8" x2="197.1" y2="234.8" stroke="#1a1a44" stroke-width="0.6"/>
<line x1="195.29999999999998" y1="238.1" x2="197.1" y2="238.1" stroke="#1a1a44" stroke-width="0.6"/>
<line x1="195.29999999999998" y1="241.4" x2="197.1" y2="241.4" stroke="#1a1a44" stroke-width="0.6"/>
<line x1="195.29999999999998" y1="244.7" x2="197.1" y2="244.7" stroke="#1a1a44" stroke-width="0.6"/>
<line x1="195.29999999999998" y1="248.0" x2="197.1" y2="248.0" stroke="#1a1a44" stroke-width="0.6"/>
<line x1="195.29999999999998" y1="251.3" x2="197.1" y2="251.3" stroke="#1a1a44" stroke-width="0.6"/>
<line x1="195.29999999999998" y1="254.6" x2="197.1" y2="254.6" stroke="#1a1a44" stroke-width="0.6"/>
<line x1="195.29999999999998" y1="257.9" x2="197.1" y2="257.9" stroke="#1a1a44" stroke-width="0.6"/>
<line x1="195.29999999999998" y1="261.2" x2="197.1" y2="261.2" stroke="#1a1a44" stroke-width="0.6"/>
<line x1="195.29999999999998" y1="264.5" x2="197.1" y2="264.5" stroke="#1a1a44" stroke-width="0.6"/>
<line x1="195.29999999999998" y1="267.8" x2="197.1" y2="267.8" stroke="#1a1a44" stroke-width="0.6"/>
<line x1="195.29999999999998" y1="271.1" x2="197.1" y2="271.1" stroke="#1a1a44" stroke-width="0.6"/>
<line x1="195.29999999999998" y1="274.4" x2="197.1" y2="274.4" stroke="#1a1a44" stroke-width="0.6"/>
<line x1="195.29999999999998" y1="277.7" x2="197.1" y2="277.7" stroke="#1a1a44" stroke-width="0.6"/>
<line x1="195.29999999999998" y1="281.0" x2="197.1" y2="281.0" stroke="#1a1a44" stroke-width="0.6"/>
<line x1="195.29999999999998" y1="284.3" x2="197.1" y2="284.3" stroke="#1a1a44" stroke-width="0.6"/>
<line x1="195.29999999999998" y1="287.6" x2="197.1" y2="287.6" stroke="#1a1a44" stroke-width="0.6"/>
<line x1="195.29999999999998" y1="290.9" x2="197.1" y2="290.9" stroke="#1a1a44" stroke-width="0.6"/>
<line x1="195.29999999999998" y1="294.2" x2="197.1" y2="294.2" stroke="#1a1a44" stroke-width="0.6"/>
<line x1="195.29999999999998" y1="297.5" x2="197.1" y2="297.5" stroke="#1a1a44" stroke-width="0.6"/>
<line x1="195.29999999999998" y1="300.8" x2="197.1" y2="300.8" stroke="#1a1a44" stroke-width="0.6"/>
<line x1="195.29999999999998" y1="304.1" x2="197.1" y2="304.1" stroke="#1a1a44" stroke-width="0.6"/>
<line x1="195.29999999999998" y1="307.4" x2="197.1" y2="307.4" stroke="#1a1a44" stroke-width="0.6"/>
<line x1="200.1" y1="308.3" x2="200.1" y2="310.5" stroke="#1a1a44" stroke-width="0.6"/>
<line x1="203.4" y1="308.3" x2="203.4" y2="310.5" stroke="#1a1a44" stroke-width="0.6"/>
<line x1="206.7" y1="308.3" x2="206.7" y2="310.5" stroke="#1a1a44" stroke-width="0.6"/>
<line x1="210.0" y1="308.3" x2="210.0" y2="310.5" stroke="#1a1a44" stroke-width="0.6"/>
<line x1="213.3" y1="308.3" x2="213.3" y2="310.5" stroke="#1a1a44" stroke-width="0.6"/>
<line x1="216.6" y1="308.3" x2="216.6" y2="310.5" stroke="#1a1a44" stroke-width="0.6"/>
<line x1="219.9" y1="308.3" x2="219.9" y2="310.5" stroke="#1a1a44" stroke-width="0.6"/>
<line x1="223.2" y1="308.3" x2="223.2" y2="310.5" stroke="#1a1a44" stroke-width="0.6"/>
<line x1="226.5" y1="308.3" x2="226.5" y2="310.5" stroke="#1a1a44" stroke-width="0.6"/>
<line x1="229.8" y1="308.3" x2="229.8" y2="310.5" stroke="#1a1a44" stroke-width="0.6"/>
<line x1="233.1" y1="308.3" x2="233.1" y2="310.5" stroke="#1a1a44" stroke-width="0.6"/>
<line x1="236.4" y1="308.3" x2="236.4" y2="310.5" stroke="#1a1a44" stroke-width="0.6"/>
<line x1="239.7" y1="308.3" x2="239.7" y2="310.5" stroke="#1a1a44" stroke-width="0.6"/>
<line x1="243.0" y1="308.3" x2="243.0" y2="310.5" stroke="#1a1a44" stroke-width="0.6"/>
<line x1="246.3" y1="308.3" x2="246.3" y2="310.5" stroke="#1a1a44" stroke-width="0.6"/>
<line x1="249.6" y1="308.3" x2="249.6" y2="310.5" stroke="#1a1a44" stroke-width="0.6"/>
<line x1="252.9" y1="308.3" x2="252.9" y2="310.5" stroke="#1a1a44" stroke-width="0.6"/>
<line x1="256.2" y1="308.3" x2="256.2" y2="310.5" stroke="#1a1a44" stroke-width="0.6"/>
<line x1="259.5" y1="308.3" x2="259.5" y2="310.5" stroke="#1a1a44" stroke-width="0.6"/>
<line x1="262.8" y1="308.3" x2="262.8" y2="310.5" stroke="#1a1a44" stroke-width="0.6"/>
<line x1="266.1" y1="308.3" x2="266.1" y2="310.5" stroke="#1a1a44" stroke-width="0.6"/>
<line x1="269.4" y1="308.3" x2="269.4" y2="310.5" stroke="#1a1a44" stroke-width="0.6"/>
<line x1="272.7" y1="308.3" x2="272.7" y2="310.5" stroke="#1a1a44" stroke-width="0.6"/>
<line x1="276.0" y1="308.3" x2="276.0" y2="310.5" stroke="#1a1a44" stroke-width="0.6"/>
<line x1="279.3" y1="308.3" x2="279.3" y2="310.5" stroke="#1a1a44" stroke-width="0.6"/>
<line x1="282.6" y1="308.3" x2="282.6" y2="310.5" stroke="#1a1a44" stroke-width="0.6"/>
<line x1="285.9" y1="308.3" x2="285.9" y2="310.5" stroke="#1a1a44" stroke-width="0.6"/>
<text x="189.9" y="241.5" font-size="9.8" fill="#3a3a3a" text-anchor="end">10<tspan font-size="6.5" dy="-4.2">5</tspan></text>
<text x="189.9" y="259" font-size="9.8" fill="#3a3a3a" text-anchor="end">10<tspan font-size="6.5" dy="-4.2">4</tspan></text>
<text x="189.9" y="276.5" font-size="9.8" fill="#3a3a3a" text-anchor="end">10<tspan font-size="6.5" dy="-4.2">3</tspan></text>
<text x="189.9" y="296.6" font-size="9.8" fill="#3a3a3a" text-anchor="end">10<tspan font-size="6.5" dy="-4.2">2</tspan></text>
<text x="189.9" y="306.8" font-size="9.8" fill="#3a3a3a" text-anchor="end">-10<tspan font-size="6.5" dy="-4.2">1</tspan></text>
<text x="191.5" y="324.3" font-size="9.8" fill="#3a3a3a">10<tspan font-size="6.5" dy="-4.2">0</tspan></text>
<text x="211.9" y="324.3" font-size="9.8" fill="#3a3a3a">10<tspan font-size="6.5" dy="-4.2">2</tspan></text>
<text x="232" y="324.3" font-size="9.8" fill="#3a3a3a">10<tspan font-size="6.5" dy="-4.2">3</tspan></text>
<text x="253.4" y="324.3" font-size="9.8" fill="#3a3a3a">10<tspan font-size="6.5" dy="-4.2">4</tspan></text>
<text x="273" y="324.3" font-size="9.8" fill="#3a3a3a">10<tspan font-size="6.5" dy="-4.2">5</tspan></text>
<text transform="translate(197.8,237.5)" font-size="9" fill="#222" textLength="19.2" lengthAdjust="spacingAndGlyphs" stroke="#222" stroke-width="0.3">4.59%</text>
<text transform="translate(287.6,237.5)" font-size="9" fill="#222" text-anchor="end" textLength="23.5" lengthAdjust="spacingAndGlyphs" stroke="#222" stroke-width="0.3">60.76%</text>
<text transform="translate(197.8,305.8)" font-size="9" fill="#222" textLength="23" lengthAdjust="spacingAndGlyphs" stroke="#222" stroke-width="0.3">30.60%</text>
<text transform="translate(287.6,305.8)" font-size="9" fill="#222" text-anchor="end" textLength="20.6" lengthAdjust="spacingAndGlyphs" stroke="#222" stroke-width="0.3">4.05%</text>
<text transform="translate(31.6,267.6) rotate(-90) scale(0.745,1.0)" font-size="11" fill="#111" text-anchor="middle" stroke="#111" stroke-width="0.25">CD123-AF647</text>
<text transform="translate(72,337.7) scale(0.72,1.0)" font-size="11" fill="#111" stroke="#111" stroke-width="0.3">GFP</text>
<line x1="91.5" y1="333.8" x2="279.0" y2="333.8" stroke="#000" stroke-width="1.7"/>
<path d="M288.00 333.80L278.00 338.30L278.00 329.30Z" fill="#000"/>
<text transform="translate(308.6,222.7)" font-size="15" fill="#000" font-weight="bold">D</text>
<line x1="361.7" y1="223.8" x2="361.7" y2="315.3" stroke="#111" stroke-width="1.4"/>
<line x1="361.0" y1="312.3" x2="511" y2="312.3" stroke="#111" stroke-width="1.4"/>
<line x1="357.8" y1="312.3" x2="361.7" y2="312.3" stroke="#111" stroke-width="1.3"/>
<text transform="translate(353.4,315.4) scale(1.18,1.0)" font-size="9" fill="#333" text-anchor="end">0</text>
<line x1="357.8" y1="290.89" x2="361.7" y2="290.89" stroke="#111" stroke-width="1.3"/>
<text transform="translate(353.4,293.99) scale(1.18,1.0)" font-size="9" fill="#333" text-anchor="end">25</text>
<line x1="357.8" y1="269.48" x2="361.7" y2="269.48" stroke="#111" stroke-width="1.3"/>
<text transform="translate(353.4,272.58) scale(1.18,1.0)" font-size="9" fill="#333" text-anchor="end">50</text>
<line x1="357.8" y1="248.06" x2="361.7" y2="248.06" stroke="#111" stroke-width="1.3"/>
<text transform="translate(353.4,251.16) scale(1.18,1.0)" font-size="9" fill="#333" text-anchor="end">75</text>
<line x1="357.8" y1="226.65" x2="361.7" y2="226.65" stroke="#111" stroke-width="1.3"/>
<text transform="translate(353.4,229.75) scale(1.18,1.0)" font-size="9" fill="#333" text-anchor="end">100</text>
<line x1="398.8" y1="312.3" x2="398.8" y2="315.3" stroke="#111" stroke-width="1.3"/>
<line x1="473.8" y1="312.3" x2="473.8" y2="315.3" stroke="#111" stroke-width="1.3"/>
<rect x="375.2" y="268.4" width="19.4" height="43.900000000000034" fill="#a60029" stroke="#7c0020" stroke-width="1.0"/>
<rect x="403.4" y="231.7" width="19.5" height="80.60000000000002" fill="#2e4b7c" stroke="#1f3256" stroke-width="1.0"/>
<rect x="450.4" y="269.4" width="18.6" height="42.900000000000034" fill="#a60029" stroke="#7c0020" stroke-width="1.0"/>
<rect x="478.3" y="232" width="19" height="80.30000000000001" fill="#2e4b7c" stroke="#1f3256" stroke-width="1.0"/>
<line x1="385" y1="266.4" x2="385" y2="268.6" stroke="#111" stroke-width="1.3"/>
<line x1="380" y1="266.4" x2="389.9" y2="266.4" stroke="#111" stroke-width="1.4"/>
<line x1="412.8" y1="229.4" x2="412.8" y2="231.8" stroke="#111" stroke-width="1.3"/>
<line x1="408" y1="229.4" x2="417.5" y2="229.4" stroke="#111" stroke-width="1.4"/>
<line x1="455" y1="269.4" x2="464.5" y2="269.4" stroke="#111" stroke-width="1.0"/>
<line x1="483" y1="232.1" x2="492.5" y2="232.1" stroke="#111" stroke-width="1.0"/>
<text transform="translate(393.4,328.8)" font-size="9.3" fill="#222" textLength="12" lengthAdjust="spacingAndGlyphs">EV</text>
<text transform="translate(457.5,328.8)" font-size="9.3" fill="#222" textLength="32" lengthAdjust="spacingAndGlyphs">CD123</text>
<text transform="translate(328.8,267.25) rotate(-90) scale(0.6763,1.0)" font-size="12.4" fill="#111" text-anchor="middle" stroke="#111" stroke-width="0.55">% viable cells</text>
<text transform="translate(8.9,373.7)" font-size="15" fill="#000" font-weight="bold">E</text>
<line x1="60.6" y1="383.3" x2="60.6" y2="499.3" stroke="#111" stroke-width="1.4"/>
<line x1="56.4" y1="496.3" x2="190.5" y2="496.3" stroke="#111" stroke-width="1.4"/>
<line x1="56.4" y1="496.3" x2="60.6" y2="496.3" stroke="#111" stroke-width="1.3"/>
<text transform="translate(52.4,499.3) scale(1.18,1.0)" font-size="9" fill="#333" text-anchor="end">0</text>
<line x1="56.4" y1="441.0" x2="60.6" y2="441.0" stroke="#111" stroke-width="1.3"/>
<text transform="translate(52.4,444.0) scale(1.18,1.0)" font-size="9" fill="#333" text-anchor="end">50</text>
<line x1="56.4" y1="385.7" x2="60.6" y2="385.7" stroke="#111" stroke-width="1.3"/>
<text transform="translate(52.4,388.7) scale(1.18,1.0)" font-size="9" fill="#333" text-anchor="end">100</text>
<line x1="92.25" y1="496.3" x2="92.25" y2="499.3" stroke="#111" stroke-width="1.3"/>
<text transform="translate(92.25,513.7) scale(1.18,1.0)" font-size="9" fill="#333" text-anchor="middle">100</text>
<line x1="124.1" y1="496.3" x2="124.1" y2="499.3" stroke="#111" stroke-width="1.3"/>
<text transform="translate(124.1,513.7) scale(1.18,1.0)" font-size="9" fill="#333" text-anchor="middle">200</text>
<line x1="155.95" y1="496.3" x2="155.95" y2="499.3" stroke="#111" stroke-width="1.3"/>
<text transform="translate(155.95,513.7) scale(1.18,1.0)" font-size="9" fill="#333" text-anchor="middle">300</text>
<line x1="187.8" y1="496.3" x2="187.8" y2="499.3" stroke="#111" stroke-width="1.3"/>
<text transform="translate(187.8,513.7) scale(1.18,1.0)" font-size="9" fill="#333" text-anchor="middle">400</text>
<text transform="translate(87.4,529.5) scale(0.6609,1.0)" font-size="12.3" fill="#111" stroke="#111" stroke-width="0.55" word-spacing="2.2">Days post transplant</text>
<text transform="translate(28.8,439.5) rotate(-90) scale(0.6601,1.0)" font-size="13" fill="#111" text-anchor="middle" stroke="#111" stroke-width="0.55">% survival</text>
<path d="M60.6 385.7 H67.6 V404.2 H70.6 V423.1 H71.9 V460 H73 V479.6 H74.2 V496.3" stroke="#283254" stroke-width="2.0" fill="none"/>
<path d="M60.6 385.7 H108.6 V422.8 H151.2 V460.5 H171.6 V496.3" stroke="#6a9444" stroke-width="2.0" fill="none"/>
<path d="M60.6 385.7 H118 V408 H157.8 V430 H171.6 V447.3" stroke="#8b1535" stroke-width="1.8" fill="none" stroke-dasharray="4.6 1.3 1.5 4.6"/>
<path d="M60.6 385.7 H170" stroke="#3a1a55" stroke-width="1.9" fill="none" stroke-dasharray="3.4 2.6" stroke-dashoffset="-1.7"/>
<text transform="translate(177,390.1)" font-size="9.8" fill="#222" textLength="65" lengthAdjust="spacingAndGlyphs">EV(CD123-low)</text>
<text transform="translate(175.8,447)" font-size="9.5" fill="#222" textLength="27.7" lengthAdjust="spacingAndGlyphs">Hox a9</text>
<text transform="translate(175.8,483.4)" font-size="9.5" fill="#222" textLength="78.5" lengthAdjust="spacingAndGlyphs">Hox a9 + mCD123</text>
<text transform="translate(78.3,480)" font-size="9.5" fill="#222" textLength="63" lengthAdjust="spacingAndGlyphs">Hox a9 + mIL-3</text>
<text transform="translate(274.3,373.2)" font-size="15" fill="#000" font-weight="bold">F</text>
<line x1="339.9" y1="374.5" x2="339.9" y2="503" stroke="#111" stroke-width="1.4"/>
<line x1="339.2" y1="500.4" x2="471" y2="500.4" stroke="#111" stroke-width="1.4"/>
<line x1="335.7" y1="500.4" x2="339.9" y2="500.4" stroke="#111" stroke-width="1.3"/>
<text transform="translate(332,503.8) scale(1.18,1.0)" font-size="9" fill="#333" text-anchor="end">0</text>
<line x1="335.7" y1="475.72" x2="339.9" y2="475.72" stroke="#111" stroke-width="1.3"/>
<text transform="translate(332,479.12) scale(1.18,1.0)" font-size="9" fill="#333" text-anchor="end">50</text>
<line x1="335.7" y1="451.05" x2="339.9" y2="451.05" stroke="#111" stroke-width="1.3"/>
<text transform="translate(332,454.45) scale(1.18,1.0)" font-size="9" fill="#333" text-anchor="end">100</text>
<line x1="335.7" y1="426.38" x2="339.9" y2="426.38" stroke="#111" stroke-width="1.3"/>
<text transform="translate(332,429.78) scale(1.18,1.0)" font-size="9" fill="#333" text-anchor="end">150</text>
<line x1="335.7" y1="401.7" x2="339.9" y2="401.7" stroke="#111" stroke-width="1.3"/>
<text transform="translate(332,405.1) scale(1.18,1.0)" font-size="9" fill="#333" text-anchor="end">200</text>
<line x1="335.7" y1="377.02" x2="339.9" y2="377.02" stroke="#111" stroke-width="1.3"/>
<text transform="translate(332,380.42) scale(1.18,1.0)" font-size="9" fill="#333" text-anchor="end">250</text>
<line x1="356.2" y1="500.4" x2="356.2" y2="503" stroke="#111" stroke-width="1.3"/>
<line x1="388.5" y1="500.4" x2="388.5" y2="503" stroke="#111" stroke-width="1.3"/>
<line x1="421.1" y1="500.4" x2="421.1" y2="503" stroke="#111" stroke-width="1.3"/>
<line x1="453.6" y1="500.4" x2="453.6" y2="503" stroke="#111" stroke-width="1.3"/>
<text transform="translate(293.0,436.9) rotate(-90) scale(0.7294,1.0)" font-size="11.8" fill="#111" text-anchor="middle" stroke="#111" stroke-width="0.55">White blood cell count</text>
<text transform="translate(305.6,436.9) rotate(-90) scale(0.76,1)" font-size="11.5" fill="#111" stroke="#111" stroke-width="0.4" text-anchor="middle">(x10<tspan font-size="8.8" dy="-4.4">6</tspan><tspan dy="4.4">/mL)</tspan></text>
<line x1="356.2" y1="437.6" x2="356.2" y2="494.6" stroke="#111" stroke-width="1.3"/>
<line x1="350.7" y1="437.6" x2="361.7" y2="437.6" stroke="#111" stroke-width="1.3"/>
<line x1="350.7" y1="494.6" x2="361.7" y2="494.6" stroke="#111" stroke-width="1.3"/>
<line x1="345.2" y1="466.5" x2="367.2" y2="466.5" stroke="#111" stroke-width="1.3"/>
<circle cx="356.2" cy="437.6" r="2.3" fill="#1e2a4a"/><circle cx="356.2" cy="494.6" r="2.3" fill="#1e2a4a"/>
<rect x="384.10" y="389.50" width="4.2" height="4.8" fill="#6aac4c"/>
<rect x="389.00" y="388.40" width="4.2" height="4.8" fill="#6aac4c"/>
<rect x="386.40" y="408.00" width="4.2" height="4.8" fill="#6aac4c"/>
<rect x="386.40" y="454.10" width="4.2" height="4.8" fill="#6aac4c"/>
<rect x="386.40" y="471.90" width="4.2" height="4.8" fill="#6aac4c"/>
<rect x="386.40" y="492.20" width="4.2" height="4.8" fill="#6aac4c"/>
<line x1="388.5" y1="418" x2="388.5" y2="454.2" stroke="#111" stroke-width="1.3"/>
<line x1="382.75" y1="418" x2="394.25" y2="418" stroke="#111" stroke-width="1.3"/>
<line x1="382.75" y1="454.2" x2="394.25" y2="454.2" stroke="#111" stroke-width="1.3"/>
<line x1="377.3" y1="436.5" x2="399.7" y2="436.5" stroke="#111" stroke-width="1.3"/>
<path d="M421.1 461.59999999999997L424.20000000000005 466.9L418.0 466.9Z" fill="#9b1030"/>
<path d="M424.2 472.0L427.3 477.3L421.09999999999997 477.3Z" fill="#9b1030"/>
<path d="M418.2 475.9L421.3 481.2L415.09999999999997 481.2Z" fill="#9b1030"/>
<line x1="421.1" y1="467.3" x2="421.1" y2="476.3" stroke="#111" stroke-width="1.3"/>
<line x1="415.90000000000003" y1="467.3" x2="426.3" y2="467.3" stroke="#111" stroke-width="1.3"/>
<line x1="415.90000000000003" y1="476.3" x2="426.3" y2="476.3" stroke="#111" stroke-width="1.3"/>
<line x1="409.65000000000003" y1="472" x2="432.55" y2="472" stroke="#111" stroke-width="1.3"/>
<path d="M449 490.09999999999997L452.1 485.0L445.9 485.0Z" fill="#40347a"/>
<path d="M453.6 496.2L456.70000000000005 491.1L450.5 491.1Z" fill="#40347a"/>
<path d="M457.1 494.09999999999997L460.20000000000005 489.0L454.0 489.0Z" fill="#40347a"/>
<line x1="453.6" y1="490" x2="453.6" y2="493" stroke="#111" stroke-width="1.3"/>
<line x1="449.6" y1="490" x2="457.6" y2="490" stroke="#111" stroke-width="1.3"/>
<line x1="449.6" y1="493" x2="457.6" y2="493" stroke="#111" stroke-width="1.3"/>
<line x1="442.6" y1="491.5" x2="464.6" y2="491.5" stroke="#111" stroke-width="1.3"/>
<text transform="translate(362.5,512.8) rotate(-45)" font-size="10.4" fill="#222" text-anchor="end">Hox a9</text>
<text transform="translate(394.8,512.8) rotate(-45)" font-size="10.4" fill="#222" text-anchor="end">Hox a9 + mIL3</text>
<text transform="translate(427.4,512.8) rotate(-45)" font-size="10.4" fill="#222" text-anchor="end">Hox a9 + mCD123</text>
<text transform="translate(459.9,512.8) rotate(-45)" font-size="10.4" fill="#222" text-anchor="end">EV(CD123-low)</text>
<text transform="translate(9.1,582.7)" font-size="15" fill="#000" font-weight="bold">G</text>
<line x1="60.7" y1="583.7" x2="60.7" y2="695.8" stroke="#111" stroke-width="1.4"/>
<line x1="60.0" y1="692.5" x2="195.5" y2="692.5" stroke="#111" stroke-width="1.4"/>
<line x1="57" y1="692.5" x2="60.7" y2="692.5" stroke="#111" stroke-width="1.3"/>
<text transform="translate(53.4,695.8) scale(1.18,1.0)" font-size="9" fill="#333" text-anchor="end">0</text>
<line x1="57" y1="671.5" x2="60.7" y2="671.5" stroke="#111" stroke-width="1.3"/>
<text transform="translate(53.4,674.8) scale(1.18,1.0)" font-size="9" fill="#333" text-anchor="end">0.2</text>
<line x1="57" y1="650.5" x2="60.7" y2="650.5" stroke="#111" stroke-width="1.3"/>
<text transform="translate(53.4,653.8) scale(1.18,1.0)" font-size="9" fill="#333" text-anchor="end">0.4</text>
<line x1="57" y1="629.5" x2="60.7" y2="629.5" stroke="#111" stroke-width="1.3"/>
<text transform="translate(53.4,632.8) scale(1.18,1.0)" font-size="9" fill="#333" text-anchor="end">0.6</text>
<line x1="57" y1="608.5" x2="60.7" y2="608.5" stroke="#111" stroke-width="1.3"/>
<text transform="translate(53.4,611.8) scale(1.18,1.0)" font-size="9" fill="#333" text-anchor="end">0.8</text>
<line x1="57" y1="587.5" x2="60.7" y2="587.5" stroke="#111" stroke-width="1.3"/>
<text transform="translate(53.4,590.8) scale(1.18,1.0)" font-size="9" fill="#333" text-anchor="end">1.0</text>
<line x1="78.25" y1="692.5" x2="78.25" y2="695.8" stroke="#111" stroke-width="1.3"/>
<line x1="111.6" y1="692.5" x2="111.6" y2="695.8" stroke="#111" stroke-width="1.3"/>
<line x1="145" y1="692.5" x2="145" y2="695.8" stroke="#111" stroke-width="1.3"/>
<line x1="178.4" y1="692.5" x2="178.4" y2="695.8" stroke="#111" stroke-width="1.3"/>
<text transform="translate(31.8,640.5) rotate(-90) scale(0.7226,1.0)" font-size="12.2" fill="#111" text-anchor="middle" stroke="#111" stroke-width="0.55">Spleen weight (g)</text>
<circle cx="78.25" cy="635.75" r="2.3" fill="#9b1030"/>
<circle cx="78.25" cy="659.5" r="2.3" fill="#9b1030"/>
<circle cx="78.25" cy="671.25" r="2.3" fill="#9b1030"/>
<line x1="78.25" y1="645" x2="78.25" y2="666.25" stroke="#111" stroke-width="1.3"/>
<line x1="72.625" y1="645" x2="83.875" y2="645" stroke="#111" stroke-width="1.3"/>
<line x1="72.625" y1="666.25" x2="83.875" y2="666.25" stroke="#111" stroke-width="1.3"/>
<line x1="67.0" y1="655.5" x2="89.5" y2="655.5" stroke="#111" stroke-width="1.3"/>
<rect x="109.50" y="602.60" width="4.2" height="4.4" fill="#2e4f80"/>
<rect x="109.50" y="620.60" width="4.2" height="4.4" fill="#2e4f80"/>
<rect x="109.50" y="631.20" width="4.2" height="4.4" fill="#2e4f80"/>
<rect x="109.50" y="639.60" width="4.2" height="4.4" fill="#2e4f80"/>
<rect x="109.50" y="648.10" width="4.2" height="4.4" fill="#2e4f80"/>
<rect x="109.50" y="660.40" width="4.2" height="4.4" fill="#2e4f80"/>
<line x1="111.6" y1="627.7" x2="111.6" y2="644.6" stroke="#111" stroke-width="1.3"/>
<line x1="106.05" y1="627.7" x2="117.14999999999999" y2="627.7" stroke="#111" stroke-width="1.3"/>
<line x1="106.05" y1="644.6" x2="117.14999999999999" y2="644.6" stroke="#111" stroke-width="1.3"/>
<line x1="100.5" y1="635.5" x2="122.69999999999999" y2="635.5" stroke="#111" stroke-width="1.3"/>
<path d="M141.5 649.2L144.3 654L138.7 654Z" fill="#6aac4c"/>
<path d="M148.5 649.2L151.3 654L145.7 654Z" fill="#6aac4c"/>
<path d="M145 668.6L147.8 673.4L142.2 673.4Z" fill="#6aac4c"/>
<line x1="145" y1="652" x2="145" y2="665.1" stroke="#111" stroke-width="1.3"/>
<line x1="140.0" y1="652" x2="150.0" y2="652" stroke="#111" stroke-width="1.3"/>
<line x1="140.0" y1="665.1" x2="150.0" y2="665.1" stroke="#111" stroke-width="1.3"/>
<line x1="133.7" y1="658.1" x2="156.3" y2="658.1" stroke="#111" stroke-width="1.3"/>
<path d="M168.5 685.0L171.0 680.8000000000001L166.0 680.8000000000001Z" fill="#3a2c62"/>
<path d="M172 685.0L174.5 680.8000000000001L169.5 680.8000000000001Z" fill="#3a2c62"/>
<path d="M175.5 685.0L178.0 680.8000000000001L173.0 680.8000000000001Z" fill="#3a2c62"/>
<path d="M179 685.0L181.5 680.8000000000001L176.5 680.8000000000001Z" fill="#3a2c62"/>
<path d="M182.5 685.0L185.0 680.8000000000001L180.0 680.8000000000001Z" fill="#3a2c62"/>
<path d="M186 685.0L188.5 680.8000000000001L183.5 680.8000000000001Z" fill="#3a2c62"/>
<path d="M189 685.0L191.5 680.8000000000001L186.5 680.8000000000001Z" fill="#3a2c62"/>
<line x1="167.5" y1="681.4" x2="189.5" y2="681.4" stroke="#111" stroke-width="1.3"/>
<text transform="translate(83.75,704.6) rotate(-45)" font-size="10.2" fill="#222" text-anchor="end">Hox a9</text>
<text transform="translate(117.1,704.6) rotate(-45)" font-size="10.2" fill="#222" text-anchor="end">Hox a9 + mIL3</text>
<text transform="translate(150.5,704.6) rotate(-45)" font-size="10.2" fill="#222" text-anchor="end">Hox a9 + mCD123</text>
<text transform="translate(183.9,704.6) rotate(-45)" font-size="10.2" fill="#222" text-anchor="end">EV(CD123-low)</text>
<rect x="1" y="1" width="518" height="773" fill="none" stroke="#000" stroke-width="2"/>
</svg></body></html>
